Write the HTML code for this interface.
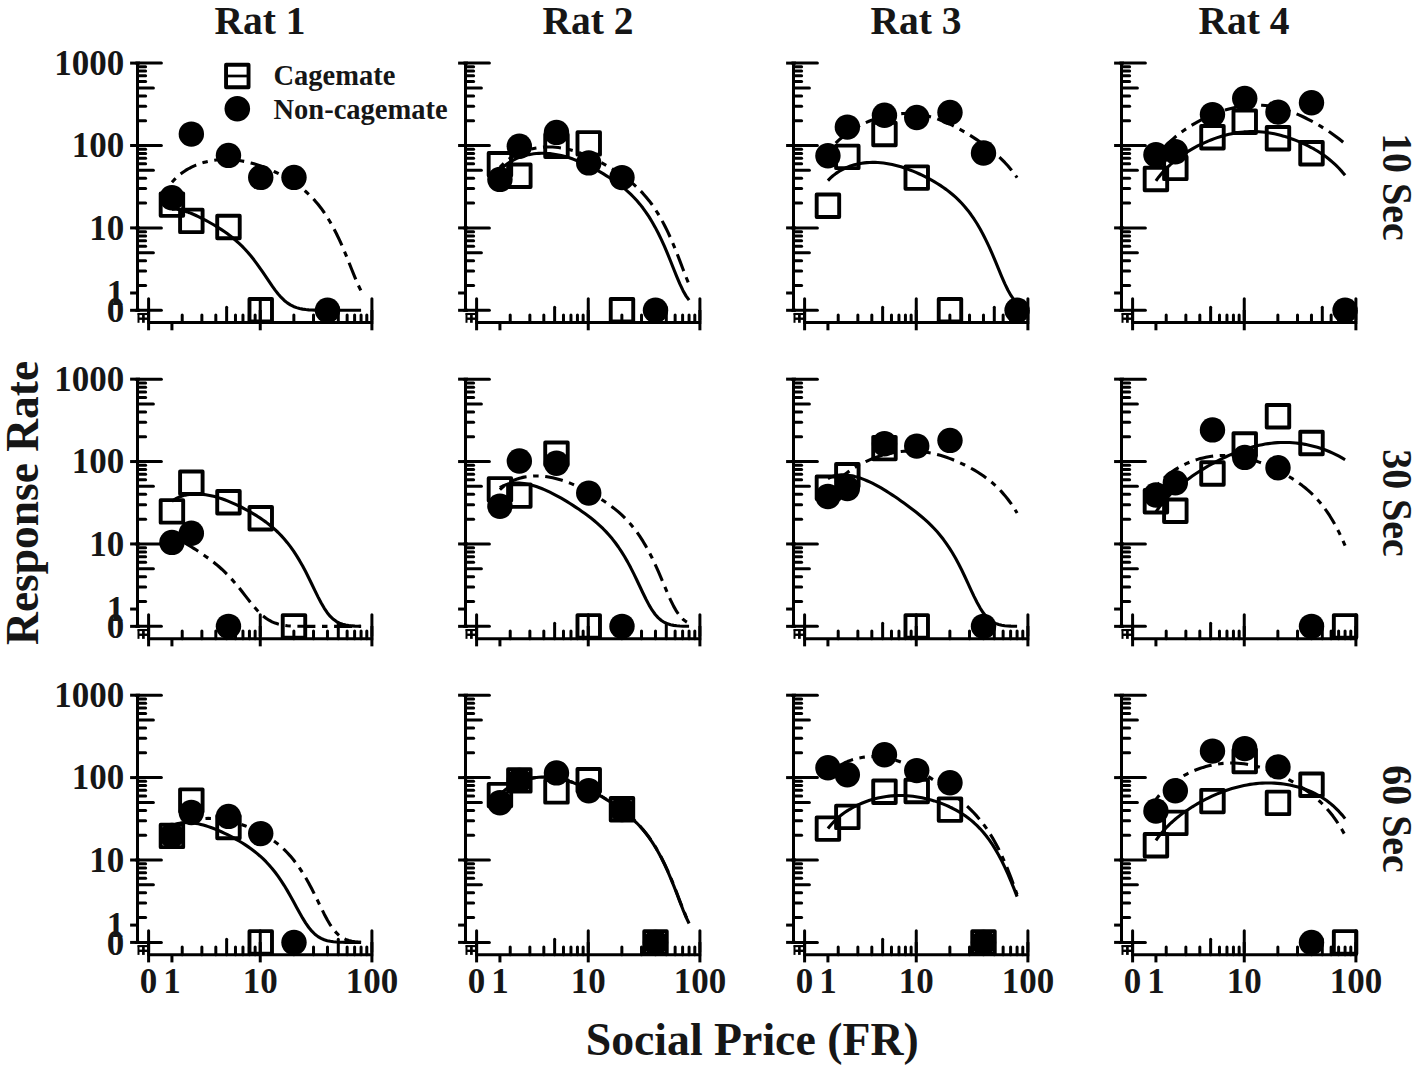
<!DOCTYPE html>
<html><head><meta charset="utf-8"><title>Response rate by social price</title>
<style>
html,body{margin:0;padding:0;background:#fff}
svg{display:block}
text{font-family:"Liberation Serif","Times New Roman",Times,serif;font-weight:bold;fill:#161616}
</style></head><body>
<svg width="1418" height="1069" viewBox="0 0 1418 1069">
<rect width="1418" height="1069" fill="#fff"/>
<g transform="translate(0 0)">
<g stroke="#000" fill="none">
<line x1="137.5" y1="62.5" x2="137.5" y2="311.7" stroke-width="3" stroke-linecap="butt"/>
<line x1="130.1" y1="310.3" x2="140" y2="310.3" stroke-width="3" stroke-linecap="butt"/>
<line x1="136" y1="310.3" x2="161.4" y2="310.3" stroke-width="3" stroke-linecap="round"/>
<line x1="130.1" y1="227.9" x2="140" y2="227.9" stroke-width="3" stroke-linecap="butt"/>
<line x1="136" y1="227.9" x2="161.4" y2="227.9" stroke-width="3" stroke-linecap="round"/>
<line x1="130.1" y1="145.5" x2="140" y2="145.5" stroke-width="3" stroke-linecap="butt"/>
<line x1="136" y1="145.5" x2="161.4" y2="145.5" stroke-width="3" stroke-linecap="round"/>
<line x1="130.1" y1="63.1" x2="140" y2="63.1" stroke-width="3" stroke-linecap="butt"/>
<line x1="136" y1="63.1" x2="161.4" y2="63.1" stroke-width="3" stroke-linecap="round"/>
<line x1="137.5" y1="285.5" x2="145.6" y2="285.5" stroke-width="3" stroke-linecap="round"/>
<line x1="137.5" y1="270.99" x2="145.6" y2="270.99" stroke-width="3" stroke-linecap="round"/>
<line x1="137.5" y1="260.69" x2="145.6" y2="260.69" stroke-width="3" stroke-linecap="round"/>
<line x1="137.5" y1="252.7" x2="153.4" y2="252.7" stroke-width="3" stroke-linecap="round"/>
<line x1="137.5" y1="246.18" x2="145.6" y2="246.18" stroke-width="3" stroke-linecap="round"/>
<line x1="137.5" y1="240.66" x2="145.6" y2="240.66" stroke-width="3" stroke-linecap="round"/>
<line x1="137.5" y1="235.89" x2="145.6" y2="235.89" stroke-width="3" stroke-linecap="round"/>
<line x1="137.5" y1="231.67" x2="145.6" y2="231.67" stroke-width="3" stroke-linecap="round"/>
<line x1="137.5" y1="203.1" x2="145.6" y2="203.1" stroke-width="3" stroke-linecap="round"/>
<line x1="137.5" y1="188.59" x2="145.6" y2="188.59" stroke-width="3" stroke-linecap="round"/>
<line x1="137.5" y1="178.29" x2="145.6" y2="178.29" stroke-width="3" stroke-linecap="round"/>
<line x1="137.5" y1="170.3" x2="153.4" y2="170.3" stroke-width="3" stroke-linecap="round"/>
<line x1="137.5" y1="163.78" x2="145.6" y2="163.78" stroke-width="3" stroke-linecap="round"/>
<line x1="137.5" y1="158.26" x2="145.6" y2="158.26" stroke-width="3" stroke-linecap="round"/>
<line x1="137.5" y1="153.49" x2="145.6" y2="153.49" stroke-width="3" stroke-linecap="round"/>
<line x1="137.5" y1="149.27" x2="145.6" y2="149.27" stroke-width="3" stroke-linecap="round"/>
<line x1="137.5" y1="120.7" x2="145.6" y2="120.7" stroke-width="3" stroke-linecap="round"/>
<line x1="137.5" y1="106.19" x2="145.6" y2="106.19" stroke-width="3" stroke-linecap="round"/>
<line x1="137.5" y1="95.89" x2="145.6" y2="95.89" stroke-width="3" stroke-linecap="round"/>
<line x1="137.5" y1="87.9" x2="153.4" y2="87.9" stroke-width="3" stroke-linecap="round"/>
<line x1="137.5" y1="81.38" x2="145.6" y2="81.38" stroke-width="3" stroke-linecap="round"/>
<line x1="137.5" y1="75.86" x2="145.6" y2="75.86" stroke-width="3" stroke-linecap="round"/>
<line x1="137.5" y1="71.09" x2="145.6" y2="71.09" stroke-width="3" stroke-linecap="round"/>
<line x1="137.5" y1="66.87" x2="145.6" y2="66.87" stroke-width="3" stroke-linecap="round"/>
<line x1="130.1" y1="293" x2="137.5" y2="293" stroke-width="3" stroke-linecap="butt"/>
<line x1="137.6" y1="314" x2="147.4" y2="314" stroke-width="2.1" stroke-linecap="butt"/>
<line x1="138" y1="318.7" x2="147.4" y2="318.7" stroke-width="2.4" stroke-linecap="butt"/>
<line x1="138.5" y1="313.2" x2="138.5" y2="322.8" stroke-width="2" stroke-linecap="butt"/>
<line x1="143.4" y1="313.2" x2="143.4" y2="322.8" stroke-width="2.7" stroke-linecap="butt"/>
<line x1="147.2" y1="322.6" x2="373.3" y2="322.6" stroke-width="3" stroke-linecap="butt"/>
<line x1="148.6" y1="298.7" x2="148.6" y2="320" stroke-width="3" stroke-linecap="round"/>
<line x1="148.6" y1="310" x2="148.6" y2="330.3" stroke-width="3" stroke-linecap="butt"/>
<line x1="260.25" y1="298.7" x2="260.25" y2="320" stroke-width="3" stroke-linecap="round"/>
<line x1="260.25" y1="310" x2="260.25" y2="330.3" stroke-width="3" stroke-linecap="butt"/>
<line x1="371.9" y1="298.7" x2="371.9" y2="320" stroke-width="3" stroke-linecap="round"/>
<line x1="371.9" y1="310" x2="371.9" y2="330.3" stroke-width="3" stroke-linecap="butt"/>
<line x1="182.21" y1="322.6" x2="182.21" y2="315" stroke-width="3" stroke-linecap="round"/>
<line x1="201.87" y1="322.6" x2="201.87" y2="315" stroke-width="3" stroke-linecap="round"/>
<line x1="215.82" y1="322.6" x2="215.82" y2="315" stroke-width="3" stroke-linecap="round"/>
<line x1="226.64" y1="322.6" x2="226.64" y2="307.2" stroke-width="3" stroke-linecap="round"/>
<line x1="235.48" y1="322.6" x2="235.48" y2="315" stroke-width="3" stroke-linecap="round"/>
<line x1="242.96" y1="322.6" x2="242.96" y2="315" stroke-width="3" stroke-linecap="round"/>
<line x1="249.43" y1="322.6" x2="249.43" y2="315" stroke-width="3" stroke-linecap="round"/>
<line x1="255.14" y1="322.6" x2="255.14" y2="315" stroke-width="3" stroke-linecap="round"/>
<line x1="293.86" y1="322.6" x2="293.86" y2="315" stroke-width="3" stroke-linecap="round"/>
<line x1="313.52" y1="322.6" x2="313.52" y2="315" stroke-width="3" stroke-linecap="round"/>
<line x1="327.47" y1="322.6" x2="327.47" y2="315" stroke-width="3" stroke-linecap="round"/>
<line x1="338.29" y1="322.6" x2="338.29" y2="307.2" stroke-width="3" stroke-linecap="round"/>
<line x1="347.13" y1="322.6" x2="347.13" y2="315" stroke-width="3" stroke-linecap="round"/>
<line x1="354.61" y1="322.6" x2="354.61" y2="315" stroke-width="3" stroke-linecap="round"/>
<line x1="361.08" y1="322.6" x2="361.08" y2="315" stroke-width="3" stroke-linecap="round"/>
<line x1="366.79" y1="322.6" x2="366.79" y2="315" stroke-width="3" stroke-linecap="round"/>
<line x1="171.93" y1="322.6" x2="171.93" y2="330.3" stroke-width="3" stroke-linecap="butt"/>
</g>
<path d="M171.93 209.18 L173.35 209.11 L174.83 209.13 L176.39 209.24 L178.02 209.45 L179.72 209.76 L181.51 210.15 L183.36 210.65 L185.29 211.24 L187.3 211.91 L189.38 212.68 L191.52 213.54 L193.74 214.48 L196.03 215.5 L198.37 216.6 L200.78 217.78 L203.25 219.04 L205.77 220.36 L208.34 221.76 L210.96 223.24 L213.63 224.78 L216.33 226.41 L219.07 228.12 L221.85 229.92 L224.66 231.82 L227.49 233.84 L230.36 235.99 L233.24 238.28 L236.15 240.73 L239.08 243.36 L242.02 246.19 L244.98 249.24 L247.95 252.52 L250.94 256.05 L253.93 259.82 L256.94 263.83 L259.95 268.05 L262.97 272.45 L266 276.96 L269.04 281.48 L272.08 285.91 L275.12 290.13 L278.17 294 L281.22 297.45 L284.27 300.42 L287.33 302.89 L290.39 304.88 L293.46 306.44 L296.52 307.63 L299.59 308.5 L302.66 309.13 L305.72 309.56 L308.8 309.85 L311.87 310.03 L314.94 310.15 L318.01 310.22 L321.09 310.26 L324.16 310.28 L327.24 310.29 L330.31 310.3 L333.39 310.3 L336.47 310.3 L339.54 310.3 L342.62 310.3 L345.7 310.3 L348.77 310.3 L351.85 310.3 L354.93 310.3 L358.01 310.3 L361.09 310.3" fill="none" stroke="#000" stroke-width="3.1" stroke-linejoin="round"/>
<path d="M171.93 182.32 L173.35 180.71 L174.83 179.14 L176.39 177.61 L178.02 176.13 L179.72 174.69 L181.51 173.3 L183.36 171.96 L185.29 170.67 L187.3 169.44 L189.38 168.27 L191.52 167.16 L193.74 166.11 L196.03 165.13 L198.37 164.22 L200.78 163.39 L203.25 162.62 L205.77 161.94 L208.34 161.33 L210.96 160.8 L213.63 160.36 L216.33 160.01 L219.07 159.75 L221.85 159.57 L224.66 159.49 L227.49 159.5 L230.36 159.61 L233.24 159.81 L236.15 160.1 L239.08 160.49 L242.02 160.97 L244.98 161.55 L247.95 162.21 L250.94 162.97 L253.93 163.81 L256.94 164.74 L259.95 165.75 L262.97 166.84 L266 168.01 L269.04 169.25 L272.08 170.58 L275.12 171.98 L278.17 173.45 L281.22 175.01 L284.27 176.65 L287.33 178.39 L290.39 180.23 L293.46 182.19 L296.52 184.27 L299.59 186.51 L302.66 188.91 L305.72 191.5 L308.8 194.3 L311.87 197.34 L314.94 200.65 L318.01 204.26 L321.09 208.19 L324.16 212.48 L327.24 217.15 L330.31 222.22 L333.39 227.74 L336.47 233.71 L339.54 240.14 L342.62 247.03 L345.7 254.33 L348.77 261.95 L351.85 269.73 L354.93 277.41 L358.01 284.63 L361.09 291.06" fill="none" stroke="#000" stroke-width="3.1" stroke-linejoin="round" stroke-dasharray="5.5 6.6 18 6.6"/>
<rect x="160.68" y="193.35" width="22.5" height="22.5" fill="none" stroke="#000" stroke-width="3.9" stroke-linejoin="round"/>
<rect x="180.09" y="209.65" width="22.5" height="22.5" fill="none" stroke="#000" stroke-width="3.9" stroke-linejoin="round"/>
<rect x="217.22" y="215.75" width="22.5" height="22.5" fill="none" stroke="#000" stroke-width="3.9" stroke-linejoin="round"/>
<rect x="249.48" y="299.05" width="22.5" height="22.5" fill="none" stroke="#000" stroke-width="3.9" stroke-linejoin="round"/>
<circle cx="171.93" cy="197.8" r="12.7" fill="#000"/>
<circle cx="191.34" cy="134.1" r="12.7" fill="#000"/>
<circle cx="228.47" cy="155.4" r="12.7" fill="#000"/>
<circle cx="260.73" cy="177.4" r="12.7" fill="#000"/>
<circle cx="293.98" cy="177.4" r="12.7" fill="#000"/>
<circle cx="327.5" cy="310.3" r="12.7" fill="#000"/>
</g>
<g transform="translate(328 0)">
<g stroke="#000" fill="none">
<line x1="137.5" y1="62.5" x2="137.5" y2="311.7" stroke-width="3" stroke-linecap="butt"/>
<line x1="130.1" y1="310.3" x2="140" y2="310.3" stroke-width="3" stroke-linecap="butt"/>
<line x1="136" y1="310.3" x2="161.4" y2="310.3" stroke-width="3" stroke-linecap="round"/>
<line x1="130.1" y1="227.9" x2="140" y2="227.9" stroke-width="3" stroke-linecap="butt"/>
<line x1="136" y1="227.9" x2="161.4" y2="227.9" stroke-width="3" stroke-linecap="round"/>
<line x1="130.1" y1="145.5" x2="140" y2="145.5" stroke-width="3" stroke-linecap="butt"/>
<line x1="136" y1="145.5" x2="161.4" y2="145.5" stroke-width="3" stroke-linecap="round"/>
<line x1="130.1" y1="63.1" x2="140" y2="63.1" stroke-width="3" stroke-linecap="butt"/>
<line x1="136" y1="63.1" x2="161.4" y2="63.1" stroke-width="3" stroke-linecap="round"/>
<line x1="137.5" y1="285.5" x2="145.6" y2="285.5" stroke-width="3" stroke-linecap="round"/>
<line x1="137.5" y1="270.99" x2="145.6" y2="270.99" stroke-width="3" stroke-linecap="round"/>
<line x1="137.5" y1="260.69" x2="145.6" y2="260.69" stroke-width="3" stroke-linecap="round"/>
<line x1="137.5" y1="252.7" x2="153.4" y2="252.7" stroke-width="3" stroke-linecap="round"/>
<line x1="137.5" y1="246.18" x2="145.6" y2="246.18" stroke-width="3" stroke-linecap="round"/>
<line x1="137.5" y1="240.66" x2="145.6" y2="240.66" stroke-width="3" stroke-linecap="round"/>
<line x1="137.5" y1="235.89" x2="145.6" y2="235.89" stroke-width="3" stroke-linecap="round"/>
<line x1="137.5" y1="231.67" x2="145.6" y2="231.67" stroke-width="3" stroke-linecap="round"/>
<line x1="137.5" y1="203.1" x2="145.6" y2="203.1" stroke-width="3" stroke-linecap="round"/>
<line x1="137.5" y1="188.59" x2="145.6" y2="188.59" stroke-width="3" stroke-linecap="round"/>
<line x1="137.5" y1="178.29" x2="145.6" y2="178.29" stroke-width="3" stroke-linecap="round"/>
<line x1="137.5" y1="170.3" x2="153.4" y2="170.3" stroke-width="3" stroke-linecap="round"/>
<line x1="137.5" y1="163.78" x2="145.6" y2="163.78" stroke-width="3" stroke-linecap="round"/>
<line x1="137.5" y1="158.26" x2="145.6" y2="158.26" stroke-width="3" stroke-linecap="round"/>
<line x1="137.5" y1="153.49" x2="145.6" y2="153.49" stroke-width="3" stroke-linecap="round"/>
<line x1="137.5" y1="149.27" x2="145.6" y2="149.27" stroke-width="3" stroke-linecap="round"/>
<line x1="137.5" y1="120.7" x2="145.6" y2="120.7" stroke-width="3" stroke-linecap="round"/>
<line x1="137.5" y1="106.19" x2="145.6" y2="106.19" stroke-width="3" stroke-linecap="round"/>
<line x1="137.5" y1="95.89" x2="145.6" y2="95.89" stroke-width="3" stroke-linecap="round"/>
<line x1="137.5" y1="87.9" x2="153.4" y2="87.9" stroke-width="3" stroke-linecap="round"/>
<line x1="137.5" y1="81.38" x2="145.6" y2="81.38" stroke-width="3" stroke-linecap="round"/>
<line x1="137.5" y1="75.86" x2="145.6" y2="75.86" stroke-width="3" stroke-linecap="round"/>
<line x1="137.5" y1="71.09" x2="145.6" y2="71.09" stroke-width="3" stroke-linecap="round"/>
<line x1="137.5" y1="66.87" x2="145.6" y2="66.87" stroke-width="3" stroke-linecap="round"/>
<line x1="130.1" y1="293" x2="137.5" y2="293" stroke-width="3" stroke-linecap="butt"/>
<line x1="137.6" y1="314" x2="147.4" y2="314" stroke-width="2.1" stroke-linecap="butt"/>
<line x1="138" y1="318.7" x2="147.4" y2="318.7" stroke-width="2.4" stroke-linecap="butt"/>
<line x1="138.5" y1="313.2" x2="138.5" y2="322.8" stroke-width="2" stroke-linecap="butt"/>
<line x1="143.4" y1="313.2" x2="143.4" y2="322.8" stroke-width="2.7" stroke-linecap="butt"/>
<line x1="147.2" y1="322.6" x2="373.3" y2="322.6" stroke-width="3" stroke-linecap="butt"/>
<line x1="148.6" y1="298.7" x2="148.6" y2="320" stroke-width="3" stroke-linecap="round"/>
<line x1="148.6" y1="310" x2="148.6" y2="330.3" stroke-width="3" stroke-linecap="butt"/>
<line x1="260.25" y1="298.7" x2="260.25" y2="320" stroke-width="3" stroke-linecap="round"/>
<line x1="260.25" y1="310" x2="260.25" y2="330.3" stroke-width="3" stroke-linecap="butt"/>
<line x1="371.9" y1="298.7" x2="371.9" y2="320" stroke-width="3" stroke-linecap="round"/>
<line x1="371.9" y1="310" x2="371.9" y2="330.3" stroke-width="3" stroke-linecap="butt"/>
<line x1="182.21" y1="322.6" x2="182.21" y2="315" stroke-width="3" stroke-linecap="round"/>
<line x1="201.87" y1="322.6" x2="201.87" y2="315" stroke-width="3" stroke-linecap="round"/>
<line x1="215.82" y1="322.6" x2="215.82" y2="315" stroke-width="3" stroke-linecap="round"/>
<line x1="226.64" y1="322.6" x2="226.64" y2="307.2" stroke-width="3" stroke-linecap="round"/>
<line x1="235.48" y1="322.6" x2="235.48" y2="315" stroke-width="3" stroke-linecap="round"/>
<line x1="242.96" y1="322.6" x2="242.96" y2="315" stroke-width="3" stroke-linecap="round"/>
<line x1="249.43" y1="322.6" x2="249.43" y2="315" stroke-width="3" stroke-linecap="round"/>
<line x1="255.14" y1="322.6" x2="255.14" y2="315" stroke-width="3" stroke-linecap="round"/>
<line x1="293.86" y1="322.6" x2="293.86" y2="315" stroke-width="3" stroke-linecap="round"/>
<line x1="313.52" y1="322.6" x2="313.52" y2="315" stroke-width="3" stroke-linecap="round"/>
<line x1="327.47" y1="322.6" x2="327.47" y2="315" stroke-width="3" stroke-linecap="round"/>
<line x1="338.29" y1="322.6" x2="338.29" y2="307.2" stroke-width="3" stroke-linecap="round"/>
<line x1="347.13" y1="322.6" x2="347.13" y2="315" stroke-width="3" stroke-linecap="round"/>
<line x1="354.61" y1="322.6" x2="354.61" y2="315" stroke-width="3" stroke-linecap="round"/>
<line x1="361.08" y1="322.6" x2="361.08" y2="315" stroke-width="3" stroke-linecap="round"/>
<line x1="366.79" y1="322.6" x2="366.79" y2="315" stroke-width="3" stroke-linecap="round"/>
<line x1="171.93" y1="322.6" x2="171.93" y2="330.3" stroke-width="3" stroke-linecap="butt"/>
</g>
<path d="M171.93 170.23 L173.35 168.77 L174.83 167.36 L176.39 166 L178.02 164.69 L179.72 163.44 L181.51 162.24 L183.36 161.11 L185.29 160.04 L187.3 159.04 L189.38 158.11 L191.52 157.25 L193.74 156.47 L196.03 155.77 L198.37 155.15 L200.78 154.61 L203.25 154.16 L205.77 153.8 L208.34 153.53 L210.96 153.36 L213.63 153.28 L216.33 153.31 L219.07 153.43 L221.85 153.65 L224.66 153.98 L227.49 154.41 L230.36 154.94 L233.24 155.57 L236.15 156.31 L239.08 157.14 L242.02 158.07 L244.98 159.09 L247.95 160.2 L250.94 161.4 L253.93 162.68 L256.94 164.04 L259.95 165.48 L262.97 166.99 L266 168.57 L269.04 170.22 L272.08 171.93 L275.12 173.71 L278.17 175.56 L281.22 177.49 L284.27 179.5 L287.33 181.6 L290.39 183.82 L293.46 186.16 L296.52 188.65 L299.59 191.3 L302.66 194.15 L305.72 197.22 L308.8 200.54 L311.87 204.14 L314.94 208.04 L318.01 212.29 L321.09 216.91 L324.16 221.94 L327.24 227.39 L330.31 233.28 L333.39 239.64 L336.47 246.44 L339.54 253.67 L342.62 261.23 L345.7 268.96 L348.77 276.63 L351.85 283.89 L354.93 290.39 L358.01 295.87 L361.09 300.22" fill="none" stroke="#000" stroke-width="3.1" stroke-linejoin="round"/>
<path d="M171.93 167.37 L173.35 165.81 L174.83 164.29 L176.39 162.82 L178.02 161.39 L179.72 160.02 L181.51 158.69 L183.36 157.43 L185.29 156.22 L187.3 155.07 L189.38 153.98 L191.52 152.96 L193.74 152.01 L196.03 151.13 L198.37 150.33 L200.78 149.61 L203.25 148.96 L205.77 148.4 L208.34 147.93 L210.96 147.55 L213.63 147.26 L216.33 147.06 L219.07 146.96 L221.85 146.96 L224.66 147.06 L227.49 147.26 L230.36 147.57 L233.24 147.97 L236.15 148.48 L239.08 149.1 L242.02 149.81 L244.98 150.62 L247.95 151.54 L250.94 152.54 L253.93 153.64 L256.94 154.83 L259.95 156.1 L262.97 157.46 L266 158.89 L269.04 160.39 L272.08 161.97 L275.12 163.61 L278.17 165.31 L281.22 167.09 L284.27 168.93 L287.33 170.84 L290.39 172.83 L293.46 174.92 L296.52 177.1 L299.59 179.4 L302.66 181.84 L305.72 184.43 L308.8 187.21 L311.87 190.19 L314.94 193.41 L318.01 196.9 L321.09 200.69 L324.16 204.8 L327.24 209.28 L330.31 214.15 L333.39 219.45 L336.47 225.19 L339.54 231.41 L342.62 238.11 L345.7 245.28 L348.77 252.88 L351.85 260.84 L354.93 268.96 L358.01 276.96 L361.09 284.48" fill="none" stroke="#000" stroke-width="3.1" stroke-linejoin="round" stroke-dasharray="5.5 6.6 18 6.6"/>
<rect x="160.68" y="153.05" width="22.5" height="22.5" fill="none" stroke="#000" stroke-width="3.9" stroke-linejoin="round"/>
<rect x="180.09" y="164.45" width="22.5" height="22.5" fill="none" stroke="#000" stroke-width="3.9" stroke-linejoin="round"/>
<rect x="217.22" y="134.45" width="22.5" height="22.5" fill="none" stroke="#000" stroke-width="3.9" stroke-linejoin="round"/>
<rect x="249.48" y="132.15" width="22.5" height="22.5" fill="none" stroke="#000" stroke-width="3.9" stroke-linejoin="round"/>
<rect x="282.73" y="299.05" width="22.5" height="22.5" fill="none" stroke="#000" stroke-width="3.9" stroke-linejoin="round"/>
<circle cx="171.93" cy="179.4" r="12.7" fill="#000"/>
<circle cx="191.34" cy="146.2" r="12.7" fill="#000"/>
<circle cx="228.47" cy="132.4" r="12.7" fill="#000"/>
<circle cx="260.73" cy="162.9" r="12.7" fill="#000"/>
<circle cx="293.98" cy="177.6" r="12.7" fill="#000"/>
<circle cx="327.5" cy="310.3" r="12.7" fill="#000"/>
</g>
<g transform="translate(656 0)">
<g stroke="#000" fill="none">
<line x1="137.5" y1="62.5" x2="137.5" y2="311.7" stroke-width="3" stroke-linecap="butt"/>
<line x1="130.1" y1="310.3" x2="140" y2="310.3" stroke-width="3" stroke-linecap="butt"/>
<line x1="136" y1="310.3" x2="161.4" y2="310.3" stroke-width="3" stroke-linecap="round"/>
<line x1="130.1" y1="227.9" x2="140" y2="227.9" stroke-width="3" stroke-linecap="butt"/>
<line x1="136" y1="227.9" x2="161.4" y2="227.9" stroke-width="3" stroke-linecap="round"/>
<line x1="130.1" y1="145.5" x2="140" y2="145.5" stroke-width="3" stroke-linecap="butt"/>
<line x1="136" y1="145.5" x2="161.4" y2="145.5" stroke-width="3" stroke-linecap="round"/>
<line x1="130.1" y1="63.1" x2="140" y2="63.1" stroke-width="3" stroke-linecap="butt"/>
<line x1="136" y1="63.1" x2="161.4" y2="63.1" stroke-width="3" stroke-linecap="round"/>
<line x1="137.5" y1="285.5" x2="145.6" y2="285.5" stroke-width="3" stroke-linecap="round"/>
<line x1="137.5" y1="270.99" x2="145.6" y2="270.99" stroke-width="3" stroke-linecap="round"/>
<line x1="137.5" y1="260.69" x2="145.6" y2="260.69" stroke-width="3" stroke-linecap="round"/>
<line x1="137.5" y1="252.7" x2="153.4" y2="252.7" stroke-width="3" stroke-linecap="round"/>
<line x1="137.5" y1="246.18" x2="145.6" y2="246.18" stroke-width="3" stroke-linecap="round"/>
<line x1="137.5" y1="240.66" x2="145.6" y2="240.66" stroke-width="3" stroke-linecap="round"/>
<line x1="137.5" y1="235.89" x2="145.6" y2="235.89" stroke-width="3" stroke-linecap="round"/>
<line x1="137.5" y1="231.67" x2="145.6" y2="231.67" stroke-width="3" stroke-linecap="round"/>
<line x1="137.5" y1="203.1" x2="145.6" y2="203.1" stroke-width="3" stroke-linecap="round"/>
<line x1="137.5" y1="188.59" x2="145.6" y2="188.59" stroke-width="3" stroke-linecap="round"/>
<line x1="137.5" y1="178.29" x2="145.6" y2="178.29" stroke-width="3" stroke-linecap="round"/>
<line x1="137.5" y1="170.3" x2="153.4" y2="170.3" stroke-width="3" stroke-linecap="round"/>
<line x1="137.5" y1="163.78" x2="145.6" y2="163.78" stroke-width="3" stroke-linecap="round"/>
<line x1="137.5" y1="158.26" x2="145.6" y2="158.26" stroke-width="3" stroke-linecap="round"/>
<line x1="137.5" y1="153.49" x2="145.6" y2="153.49" stroke-width="3" stroke-linecap="round"/>
<line x1="137.5" y1="149.27" x2="145.6" y2="149.27" stroke-width="3" stroke-linecap="round"/>
<line x1="137.5" y1="120.7" x2="145.6" y2="120.7" stroke-width="3" stroke-linecap="round"/>
<line x1="137.5" y1="106.19" x2="145.6" y2="106.19" stroke-width="3" stroke-linecap="round"/>
<line x1="137.5" y1="95.89" x2="145.6" y2="95.89" stroke-width="3" stroke-linecap="round"/>
<line x1="137.5" y1="87.9" x2="153.4" y2="87.9" stroke-width="3" stroke-linecap="round"/>
<line x1="137.5" y1="81.38" x2="145.6" y2="81.38" stroke-width="3" stroke-linecap="round"/>
<line x1="137.5" y1="75.86" x2="145.6" y2="75.86" stroke-width="3" stroke-linecap="round"/>
<line x1="137.5" y1="71.09" x2="145.6" y2="71.09" stroke-width="3" stroke-linecap="round"/>
<line x1="137.5" y1="66.87" x2="145.6" y2="66.87" stroke-width="3" stroke-linecap="round"/>
<line x1="130.1" y1="293" x2="137.5" y2="293" stroke-width="3" stroke-linecap="butt"/>
<line x1="137.6" y1="314" x2="147.4" y2="314" stroke-width="2.1" stroke-linecap="butt"/>
<line x1="138" y1="318.7" x2="147.4" y2="318.7" stroke-width="2.4" stroke-linecap="butt"/>
<line x1="138.5" y1="313.2" x2="138.5" y2="322.8" stroke-width="2" stroke-linecap="butt"/>
<line x1="143.4" y1="313.2" x2="143.4" y2="322.8" stroke-width="2.7" stroke-linecap="butt"/>
<line x1="147.2" y1="322.6" x2="373.3" y2="322.6" stroke-width="3" stroke-linecap="butt"/>
<line x1="148.6" y1="298.7" x2="148.6" y2="320" stroke-width="3" stroke-linecap="round"/>
<line x1="148.6" y1="310" x2="148.6" y2="330.3" stroke-width="3" stroke-linecap="butt"/>
<line x1="260.25" y1="298.7" x2="260.25" y2="320" stroke-width="3" stroke-linecap="round"/>
<line x1="260.25" y1="310" x2="260.25" y2="330.3" stroke-width="3" stroke-linecap="butt"/>
<line x1="371.9" y1="298.7" x2="371.9" y2="320" stroke-width="3" stroke-linecap="round"/>
<line x1="371.9" y1="310" x2="371.9" y2="330.3" stroke-width="3" stroke-linecap="butt"/>
<line x1="182.21" y1="322.6" x2="182.21" y2="315" stroke-width="3" stroke-linecap="round"/>
<line x1="201.87" y1="322.6" x2="201.87" y2="315" stroke-width="3" stroke-linecap="round"/>
<line x1="215.82" y1="322.6" x2="215.82" y2="315" stroke-width="3" stroke-linecap="round"/>
<line x1="226.64" y1="322.6" x2="226.64" y2="307.2" stroke-width="3" stroke-linecap="round"/>
<line x1="235.48" y1="322.6" x2="235.48" y2="315" stroke-width="3" stroke-linecap="round"/>
<line x1="242.96" y1="322.6" x2="242.96" y2="315" stroke-width="3" stroke-linecap="round"/>
<line x1="249.43" y1="322.6" x2="249.43" y2="315" stroke-width="3" stroke-linecap="round"/>
<line x1="255.14" y1="322.6" x2="255.14" y2="315" stroke-width="3" stroke-linecap="round"/>
<line x1="293.86" y1="322.6" x2="293.86" y2="315" stroke-width="3" stroke-linecap="round"/>
<line x1="313.52" y1="322.6" x2="313.52" y2="315" stroke-width="3" stroke-linecap="round"/>
<line x1="327.47" y1="322.6" x2="327.47" y2="315" stroke-width="3" stroke-linecap="round"/>
<line x1="338.29" y1="322.6" x2="338.29" y2="307.2" stroke-width="3" stroke-linecap="round"/>
<line x1="347.13" y1="322.6" x2="347.13" y2="315" stroke-width="3" stroke-linecap="round"/>
<line x1="354.61" y1="322.6" x2="354.61" y2="315" stroke-width="3" stroke-linecap="round"/>
<line x1="361.08" y1="322.6" x2="361.08" y2="315" stroke-width="3" stroke-linecap="round"/>
<line x1="366.79" y1="322.6" x2="366.79" y2="315" stroke-width="3" stroke-linecap="round"/>
<line x1="171.93" y1="322.6" x2="171.93" y2="330.3" stroke-width="3" stroke-linecap="butt"/>
</g>
<path d="M171.93 180.58 L173.35 179.09 L174.83 177.64 L176.39 176.25 L178.02 174.91 L179.72 173.61 L181.51 172.38 L183.36 171.2 L185.29 170.09 L187.3 169.04 L189.38 168.05 L191.52 167.14 L193.74 166.29 L196.03 165.53 L198.37 164.84 L200.78 164.23 L203.25 163.7 L205.77 163.26 L208.34 162.91 L210.96 162.64 L213.63 162.47 L216.33 162.39 L219.07 162.41 L221.85 162.52 L224.66 162.73 L227.49 163.03 L230.36 163.43 L233.24 163.93 L236.15 164.52 L239.08 165.2 L242.02 165.98 L244.98 166.84 L247.95 167.8 L250.94 168.83 L253.93 169.95 L256.94 171.15 L259.95 172.42 L262.97 173.76 L266 175.19 L269.04 176.68 L272.08 178.25 L275.12 179.9 L278.17 181.64 L281.22 183.47 L284.27 185.4 L287.33 187.45 L290.39 189.63 L293.46 191.96 L296.52 194.47 L299.59 197.17 L302.66 200.09 L305.72 203.25 L308.8 206.69 L311.87 210.44 L314.94 214.52 L318.01 218.96 L321.09 223.79 L324.16 229.04 L327.24 234.72 L330.31 240.84 L333.39 247.4 L336.47 254.37 L339.54 261.66 L342.62 269.13 L345.7 276.55 L348.77 283.61 L351.85 289.99 L354.93 295.42 L358.01 299.79 L361.09 303.12" fill="none" stroke="#000" stroke-width="3.1" stroke-linejoin="round"/>
<path d="M171.93 152.41 L173.35 150.51 L174.83 148.63 L176.39 146.79 L178.02 144.96 L179.72 143.17 L181.51 141.4 L183.36 139.67 L185.29 137.97 L187.3 136.31 L189.38 134.68 L191.52 133.09 L193.74 131.55 L196.03 130.04 L198.37 128.59 L200.78 127.18 L203.25 125.82 L205.77 124.52 L208.34 123.27 L210.96 122.09 L213.63 120.96 L216.33 119.9 L219.07 118.91 L221.85 117.99 L224.66 117.15 L227.49 116.38 L230.36 115.7 L233.24 115.09 L236.15 114.58 L239.08 114.15 L242.02 113.82 L244.98 113.59 L247.95 113.45 L250.94 113.41 L253.93 113.48 L256.94 113.65 L259.95 113.93 L262.97 114.31 L266 114.81 L269.04 115.41 L272.08 116.12 L275.12 116.94 L278.17 117.86 L281.22 118.89 L284.27 120.02 L287.33 121.25 L290.39 122.56 L293.46 123.97 L296.52 125.47 L299.59 127.04 L302.66 128.69 L305.72 130.4 L308.8 132.18 L311.87 134.02 L314.94 135.92 L318.01 137.88 L321.09 139.9 L324.16 141.98 L327.24 144.14 L330.31 146.37 L333.39 148.7 L336.47 151.14 L339.54 153.72 L342.62 156.44 L345.7 159.35 L348.77 162.46 L351.85 165.81 L354.93 169.44 L358.01 173.37 L361.09 177.64" fill="none" stroke="#000" stroke-width="3.1" stroke-linejoin="round" stroke-dasharray="5.5 6.6 18 6.6"/>
<rect x="160.68" y="194.45" width="22.5" height="22.5" fill="none" stroke="#000" stroke-width="3.9" stroke-linejoin="round"/>
<rect x="180.09" y="145.65" width="22.5" height="22.5" fill="none" stroke="#000" stroke-width="3.9" stroke-linejoin="round"/>
<rect x="217.22" y="122.75" width="22.5" height="22.5" fill="none" stroke="#000" stroke-width="3.9" stroke-linejoin="round"/>
<rect x="249.48" y="166.35" width="22.5" height="22.5" fill="none" stroke="#000" stroke-width="3.9" stroke-linejoin="round"/>
<rect x="282.73" y="299.05" width="22.5" height="22.5" fill="none" stroke="#000" stroke-width="3.9" stroke-linejoin="round"/>
<circle cx="171.93" cy="155.8" r="12.7" fill="#000"/>
<circle cx="191.34" cy="127.1" r="12.7" fill="#000"/>
<circle cx="228.47" cy="115.2" r="12.7" fill="#000"/>
<circle cx="260.73" cy="117.5" r="12.7" fill="#000"/>
<circle cx="293.98" cy="112.5" r="12.7" fill="#000"/>
<circle cx="327.5" cy="153" r="12.7" fill="#000"/>
<circle cx="361.09" cy="310.3" r="12.7" fill="#000"/>
</g>
<g transform="translate(984 0)">
<g stroke="#000" fill="none">
<line x1="137.5" y1="62.5" x2="137.5" y2="311.7" stroke-width="3" stroke-linecap="butt"/>
<line x1="130.1" y1="310.3" x2="140" y2="310.3" stroke-width="3" stroke-linecap="butt"/>
<line x1="136" y1="310.3" x2="161.4" y2="310.3" stroke-width="3" stroke-linecap="round"/>
<line x1="130.1" y1="227.9" x2="140" y2="227.9" stroke-width="3" stroke-linecap="butt"/>
<line x1="136" y1="227.9" x2="161.4" y2="227.9" stroke-width="3" stroke-linecap="round"/>
<line x1="130.1" y1="145.5" x2="140" y2="145.5" stroke-width="3" stroke-linecap="butt"/>
<line x1="136" y1="145.5" x2="161.4" y2="145.5" stroke-width="3" stroke-linecap="round"/>
<line x1="130.1" y1="63.1" x2="140" y2="63.1" stroke-width="3" stroke-linecap="butt"/>
<line x1="136" y1="63.1" x2="161.4" y2="63.1" stroke-width="3" stroke-linecap="round"/>
<line x1="137.5" y1="285.5" x2="145.6" y2="285.5" stroke-width="3" stroke-linecap="round"/>
<line x1="137.5" y1="270.99" x2="145.6" y2="270.99" stroke-width="3" stroke-linecap="round"/>
<line x1="137.5" y1="260.69" x2="145.6" y2="260.69" stroke-width="3" stroke-linecap="round"/>
<line x1="137.5" y1="252.7" x2="153.4" y2="252.7" stroke-width="3" stroke-linecap="round"/>
<line x1="137.5" y1="246.18" x2="145.6" y2="246.18" stroke-width="3" stroke-linecap="round"/>
<line x1="137.5" y1="240.66" x2="145.6" y2="240.66" stroke-width="3" stroke-linecap="round"/>
<line x1="137.5" y1="235.89" x2="145.6" y2="235.89" stroke-width="3" stroke-linecap="round"/>
<line x1="137.5" y1="231.67" x2="145.6" y2="231.67" stroke-width="3" stroke-linecap="round"/>
<line x1="137.5" y1="203.1" x2="145.6" y2="203.1" stroke-width="3" stroke-linecap="round"/>
<line x1="137.5" y1="188.59" x2="145.6" y2="188.59" stroke-width="3" stroke-linecap="round"/>
<line x1="137.5" y1="178.29" x2="145.6" y2="178.29" stroke-width="3" stroke-linecap="round"/>
<line x1="137.5" y1="170.3" x2="153.4" y2="170.3" stroke-width="3" stroke-linecap="round"/>
<line x1="137.5" y1="163.78" x2="145.6" y2="163.78" stroke-width="3" stroke-linecap="round"/>
<line x1="137.5" y1="158.26" x2="145.6" y2="158.26" stroke-width="3" stroke-linecap="round"/>
<line x1="137.5" y1="153.49" x2="145.6" y2="153.49" stroke-width="3" stroke-linecap="round"/>
<line x1="137.5" y1="149.27" x2="145.6" y2="149.27" stroke-width="3" stroke-linecap="round"/>
<line x1="137.5" y1="120.7" x2="145.6" y2="120.7" stroke-width="3" stroke-linecap="round"/>
<line x1="137.5" y1="106.19" x2="145.6" y2="106.19" stroke-width="3" stroke-linecap="round"/>
<line x1="137.5" y1="95.89" x2="145.6" y2="95.89" stroke-width="3" stroke-linecap="round"/>
<line x1="137.5" y1="87.9" x2="153.4" y2="87.9" stroke-width="3" stroke-linecap="round"/>
<line x1="137.5" y1="81.38" x2="145.6" y2="81.38" stroke-width="3" stroke-linecap="round"/>
<line x1="137.5" y1="75.86" x2="145.6" y2="75.86" stroke-width="3" stroke-linecap="round"/>
<line x1="137.5" y1="71.09" x2="145.6" y2="71.09" stroke-width="3" stroke-linecap="round"/>
<line x1="137.5" y1="66.87" x2="145.6" y2="66.87" stroke-width="3" stroke-linecap="round"/>
<line x1="130.1" y1="293" x2="137.5" y2="293" stroke-width="3" stroke-linecap="butt"/>
<line x1="137.6" y1="314" x2="147.4" y2="314" stroke-width="2.1" stroke-linecap="butt"/>
<line x1="138" y1="318.7" x2="147.4" y2="318.7" stroke-width="2.4" stroke-linecap="butt"/>
<line x1="138.5" y1="313.2" x2="138.5" y2="322.8" stroke-width="2" stroke-linecap="butt"/>
<line x1="143.4" y1="313.2" x2="143.4" y2="322.8" stroke-width="2.7" stroke-linecap="butt"/>
<line x1="147.2" y1="322.6" x2="373.3" y2="322.6" stroke-width="3" stroke-linecap="butt"/>
<line x1="148.6" y1="298.7" x2="148.6" y2="320" stroke-width="3" stroke-linecap="round"/>
<line x1="148.6" y1="310" x2="148.6" y2="330.3" stroke-width="3" stroke-linecap="butt"/>
<line x1="260.25" y1="298.7" x2="260.25" y2="320" stroke-width="3" stroke-linecap="round"/>
<line x1="260.25" y1="310" x2="260.25" y2="330.3" stroke-width="3" stroke-linecap="butt"/>
<line x1="371.9" y1="298.7" x2="371.9" y2="320" stroke-width="3" stroke-linecap="round"/>
<line x1="371.9" y1="310" x2="371.9" y2="330.3" stroke-width="3" stroke-linecap="butt"/>
<line x1="182.21" y1="322.6" x2="182.21" y2="315" stroke-width="3" stroke-linecap="round"/>
<line x1="201.87" y1="322.6" x2="201.87" y2="315" stroke-width="3" stroke-linecap="round"/>
<line x1="215.82" y1="322.6" x2="215.82" y2="315" stroke-width="3" stroke-linecap="round"/>
<line x1="226.64" y1="322.6" x2="226.64" y2="307.2" stroke-width="3" stroke-linecap="round"/>
<line x1="235.48" y1="322.6" x2="235.48" y2="315" stroke-width="3" stroke-linecap="round"/>
<line x1="242.96" y1="322.6" x2="242.96" y2="315" stroke-width="3" stroke-linecap="round"/>
<line x1="249.43" y1="322.6" x2="249.43" y2="315" stroke-width="3" stroke-linecap="round"/>
<line x1="255.14" y1="322.6" x2="255.14" y2="315" stroke-width="3" stroke-linecap="round"/>
<line x1="293.86" y1="322.6" x2="293.86" y2="315" stroke-width="3" stroke-linecap="round"/>
<line x1="313.52" y1="322.6" x2="313.52" y2="315" stroke-width="3" stroke-linecap="round"/>
<line x1="327.47" y1="322.6" x2="327.47" y2="315" stroke-width="3" stroke-linecap="round"/>
<line x1="338.29" y1="322.6" x2="338.29" y2="307.2" stroke-width="3" stroke-linecap="round"/>
<line x1="347.13" y1="322.6" x2="347.13" y2="315" stroke-width="3" stroke-linecap="round"/>
<line x1="354.61" y1="322.6" x2="354.61" y2="315" stroke-width="3" stroke-linecap="round"/>
<line x1="361.08" y1="322.6" x2="361.08" y2="315" stroke-width="3" stroke-linecap="round"/>
<line x1="366.79" y1="322.6" x2="366.79" y2="315" stroke-width="3" stroke-linecap="round"/>
<line x1="171.93" y1="322.6" x2="171.93" y2="330.3" stroke-width="3" stroke-linecap="butt"/>
</g>
<path d="M171.93 180.9 L173.35 178.91 L174.83 176.93 L176.39 174.98 L178.02 173.05 L179.72 171.13 L181.51 169.24 L183.36 167.37 L185.29 165.53 L187.3 163.71 L189.38 161.92 L191.52 160.16 L193.74 158.43 L196.03 156.74 L198.37 155.08 L200.78 153.45 L203.25 151.87 L205.77 150.32 L208.34 148.82 L210.96 147.36 L213.63 145.95 L216.33 144.6 L219.07 143.29 L221.85 142.04 L224.66 140.84 L227.49 139.71 L230.36 138.64 L233.24 137.63 L236.15 136.69 L239.08 135.82 L242.02 135.02 L244.98 134.3 L247.95 133.66 L250.94 133.1 L253.93 132.62 L256.94 132.22 L259.95 131.92 L262.97 131.7 L266 131.57 L269.04 131.53 L272.08 131.58 L275.12 131.72 L278.17 131.96 L281.22 132.29 L284.27 132.71 L287.33 133.22 L290.39 133.82 L293.46 134.5 L296.52 135.28 L299.59 136.14 L302.66 137.08 L305.72 138.1 L308.8 139.2 L311.87 140.38 L314.94 141.64 L318.01 142.98 L321.09 144.4 L324.16 145.91 L327.24 147.51 L330.31 149.21 L333.39 151.03 L336.47 152.97 L339.54 155.05 L342.62 157.28 L345.7 159.7 L348.77 162.32 L351.85 165.17 L354.93 168.26 L358.01 171.64 L361.09 175.33" fill="none" stroke="#000" stroke-width="3.1" stroke-linejoin="round"/>
<path d="M171.93 158.02 L173.35 155.99 L174.83 153.98 L176.39 151.98 L178.02 150 L179.72 148.04 L181.51 146.1 L183.36 144.19 L185.29 142.29 L187.3 140.42 L189.38 138.57 L191.52 136.75 L193.74 134.95 L196.03 133.19 L198.37 131.46 L200.78 129.76 L203.25 128.09 L205.77 126.47 L208.34 124.88 L210.96 123.33 L213.63 121.83 L216.33 120.38 L219.07 118.97 L221.85 117.61 L224.66 116.31 L227.49 115.06 L230.36 113.87 L233.24 112.75 L236.15 111.68 L239.08 110.69 L242.02 109.77 L244.98 108.92 L247.95 108.14 L250.94 107.45 L253.93 106.84 L256.94 106.31 L259.95 105.88 L262.97 105.53 L266 105.28 L269.04 105.12 L272.08 105.06 L275.12 105.1 L278.17 105.25 L281.22 105.49 L284.27 105.84 L287.33 106.3 L290.39 106.86 L293.46 107.52 L296.52 108.28 L299.59 109.15 L302.66 110.11 L305.72 111.17 L308.8 112.32 L311.87 113.56 L314.94 114.88 L318.01 116.28 L321.09 117.76 L324.16 119.31 L327.24 120.93 L330.31 122.62 L333.39 124.37 L336.47 126.19 L339.54 128.07 L342.62 130.02 L345.7 132.06 L348.77 134.18 L351.85 136.4 L354.93 138.74 L358.01 141.22 L361.09 143.86" fill="none" stroke="#000" stroke-width="3.1" stroke-linejoin="round" stroke-dasharray="5.5 6.6 18 6.6"/>
<rect x="160.68" y="167.75" width="22.5" height="22.5" fill="none" stroke="#000" stroke-width="3.9" stroke-linejoin="round"/>
<rect x="180.09" y="156.65" width="22.5" height="22.5" fill="none" stroke="#000" stroke-width="3.9" stroke-linejoin="round"/>
<rect x="217.22" y="125.95" width="22.5" height="22.5" fill="none" stroke="#000" stroke-width="3.9" stroke-linejoin="round"/>
<rect x="249.48" y="110.55" width="22.5" height="22.5" fill="none" stroke="#000" stroke-width="3.9" stroke-linejoin="round"/>
<rect x="282.73" y="126.95" width="22.5" height="22.5" fill="none" stroke="#000" stroke-width="3.9" stroke-linejoin="round"/>
<rect x="316.25" y="142.05" width="22.5" height="22.5" fill="none" stroke="#000" stroke-width="3.9" stroke-linejoin="round"/>
<circle cx="171.93" cy="154.8" r="12.7" fill="#000"/>
<circle cx="191.34" cy="151.8" r="12.7" fill="#000"/>
<circle cx="228.47" cy="114.6" r="12.7" fill="#000"/>
<circle cx="260.73" cy="98.5" r="12.7" fill="#000"/>
<circle cx="293.98" cy="112.1" r="12.7" fill="#000"/>
<circle cx="327.5" cy="102.7" r="12.7" fill="#000"/>
<circle cx="361.09" cy="310.3" r="12.7" fill="#000"/>
</g>
<g transform="translate(0 316.05)">
<g stroke="#000" fill="none">
<line x1="137.5" y1="62.5" x2="137.5" y2="311.7" stroke-width="3" stroke-linecap="butt"/>
<line x1="130.1" y1="310.3" x2="140" y2="310.3" stroke-width="3" stroke-linecap="butt"/>
<line x1="136" y1="310.3" x2="161.4" y2="310.3" stroke-width="3" stroke-linecap="round"/>
<line x1="130.1" y1="227.9" x2="140" y2="227.9" stroke-width="3" stroke-linecap="butt"/>
<line x1="136" y1="227.9" x2="161.4" y2="227.9" stroke-width="3" stroke-linecap="round"/>
<line x1="130.1" y1="145.5" x2="140" y2="145.5" stroke-width="3" stroke-linecap="butt"/>
<line x1="136" y1="145.5" x2="161.4" y2="145.5" stroke-width="3" stroke-linecap="round"/>
<line x1="130.1" y1="63.1" x2="140" y2="63.1" stroke-width="3" stroke-linecap="butt"/>
<line x1="136" y1="63.1" x2="161.4" y2="63.1" stroke-width="3" stroke-linecap="round"/>
<line x1="137.5" y1="285.5" x2="145.6" y2="285.5" stroke-width="3" stroke-linecap="round"/>
<line x1="137.5" y1="270.99" x2="145.6" y2="270.99" stroke-width="3" stroke-linecap="round"/>
<line x1="137.5" y1="260.69" x2="145.6" y2="260.69" stroke-width="3" stroke-linecap="round"/>
<line x1="137.5" y1="252.7" x2="153.4" y2="252.7" stroke-width="3" stroke-linecap="round"/>
<line x1="137.5" y1="246.18" x2="145.6" y2="246.18" stroke-width="3" stroke-linecap="round"/>
<line x1="137.5" y1="240.66" x2="145.6" y2="240.66" stroke-width="3" stroke-linecap="round"/>
<line x1="137.5" y1="235.89" x2="145.6" y2="235.89" stroke-width="3" stroke-linecap="round"/>
<line x1="137.5" y1="231.67" x2="145.6" y2="231.67" stroke-width="3" stroke-linecap="round"/>
<line x1="137.5" y1="203.1" x2="145.6" y2="203.1" stroke-width="3" stroke-linecap="round"/>
<line x1="137.5" y1="188.59" x2="145.6" y2="188.59" stroke-width="3" stroke-linecap="round"/>
<line x1="137.5" y1="178.29" x2="145.6" y2="178.29" stroke-width="3" stroke-linecap="round"/>
<line x1="137.5" y1="170.3" x2="153.4" y2="170.3" stroke-width="3" stroke-linecap="round"/>
<line x1="137.5" y1="163.78" x2="145.6" y2="163.78" stroke-width="3" stroke-linecap="round"/>
<line x1="137.5" y1="158.26" x2="145.6" y2="158.26" stroke-width="3" stroke-linecap="round"/>
<line x1="137.5" y1="153.49" x2="145.6" y2="153.49" stroke-width="3" stroke-linecap="round"/>
<line x1="137.5" y1="149.27" x2="145.6" y2="149.27" stroke-width="3" stroke-linecap="round"/>
<line x1="137.5" y1="120.7" x2="145.6" y2="120.7" stroke-width="3" stroke-linecap="round"/>
<line x1="137.5" y1="106.19" x2="145.6" y2="106.19" stroke-width="3" stroke-linecap="round"/>
<line x1="137.5" y1="95.89" x2="145.6" y2="95.89" stroke-width="3" stroke-linecap="round"/>
<line x1="137.5" y1="87.9" x2="153.4" y2="87.9" stroke-width="3" stroke-linecap="round"/>
<line x1="137.5" y1="81.38" x2="145.6" y2="81.38" stroke-width="3" stroke-linecap="round"/>
<line x1="137.5" y1="75.86" x2="145.6" y2="75.86" stroke-width="3" stroke-linecap="round"/>
<line x1="137.5" y1="71.09" x2="145.6" y2="71.09" stroke-width="3" stroke-linecap="round"/>
<line x1="137.5" y1="66.87" x2="145.6" y2="66.87" stroke-width="3" stroke-linecap="round"/>
<line x1="130.1" y1="293" x2="137.5" y2="293" stroke-width="3" stroke-linecap="butt"/>
<line x1="137.6" y1="314" x2="147.4" y2="314" stroke-width="2.1" stroke-linecap="butt"/>
<line x1="138" y1="318.7" x2="147.4" y2="318.7" stroke-width="2.4" stroke-linecap="butt"/>
<line x1="138.5" y1="313.2" x2="138.5" y2="322.8" stroke-width="2" stroke-linecap="butt"/>
<line x1="143.4" y1="313.2" x2="143.4" y2="322.8" stroke-width="2.7" stroke-linecap="butt"/>
<line x1="147.2" y1="322.6" x2="373.3" y2="322.6" stroke-width="3" stroke-linecap="butt"/>
<line x1="148.6" y1="298.7" x2="148.6" y2="320" stroke-width="3" stroke-linecap="round"/>
<line x1="148.6" y1="310" x2="148.6" y2="330.3" stroke-width="3" stroke-linecap="butt"/>
<line x1="260.25" y1="298.7" x2="260.25" y2="320" stroke-width="3" stroke-linecap="round"/>
<line x1="260.25" y1="310" x2="260.25" y2="330.3" stroke-width="3" stroke-linecap="butt"/>
<line x1="371.9" y1="298.7" x2="371.9" y2="320" stroke-width="3" stroke-linecap="round"/>
<line x1="371.9" y1="310" x2="371.9" y2="330.3" stroke-width="3" stroke-linecap="butt"/>
<line x1="182.21" y1="322.6" x2="182.21" y2="315" stroke-width="3" stroke-linecap="round"/>
<line x1="201.87" y1="322.6" x2="201.87" y2="315" stroke-width="3" stroke-linecap="round"/>
<line x1="215.82" y1="322.6" x2="215.82" y2="315" stroke-width="3" stroke-linecap="round"/>
<line x1="226.64" y1="322.6" x2="226.64" y2="307.2" stroke-width="3" stroke-linecap="round"/>
<line x1="235.48" y1="322.6" x2="235.48" y2="315" stroke-width="3" stroke-linecap="round"/>
<line x1="242.96" y1="322.6" x2="242.96" y2="315" stroke-width="3" stroke-linecap="round"/>
<line x1="249.43" y1="322.6" x2="249.43" y2="315" stroke-width="3" stroke-linecap="round"/>
<line x1="255.14" y1="322.6" x2="255.14" y2="315" stroke-width="3" stroke-linecap="round"/>
<line x1="293.86" y1="322.6" x2="293.86" y2="315" stroke-width="3" stroke-linecap="round"/>
<line x1="313.52" y1="322.6" x2="313.52" y2="315" stroke-width="3" stroke-linecap="round"/>
<line x1="327.47" y1="322.6" x2="327.47" y2="315" stroke-width="3" stroke-linecap="round"/>
<line x1="338.29" y1="322.6" x2="338.29" y2="307.2" stroke-width="3" stroke-linecap="round"/>
<line x1="347.13" y1="322.6" x2="347.13" y2="315" stroke-width="3" stroke-linecap="round"/>
<line x1="354.61" y1="322.6" x2="354.61" y2="315" stroke-width="3" stroke-linecap="round"/>
<line x1="361.08" y1="322.6" x2="361.08" y2="315" stroke-width="3" stroke-linecap="round"/>
<line x1="366.79" y1="322.6" x2="366.79" y2="315" stroke-width="3" stroke-linecap="round"/>
<line x1="171.93" y1="322.6" x2="171.93" y2="330.3" stroke-width="3" stroke-linecap="butt"/>
</g>
<path d="M171.93 185.28 L173.35 184.25 L174.83 183.28 L176.39 182.39 L178.02 181.56 L179.72 180.82 L181.51 180.15 L183.36 179.57 L185.29 179.06 L187.3 178.65 L189.38 178.32 L191.52 178.09 L193.74 177.95 L196.03 177.9 L198.37 177.95 L200.78 178.1 L203.25 178.34 L205.77 178.69 L208.34 179.13 L210.96 179.67 L213.63 180.3 L216.33 181.03 L219.07 181.85 L221.85 182.77 L224.66 183.77 L227.49 184.85 L230.36 186.02 L233.24 187.26 L236.15 188.58 L239.08 189.97 L242.02 191.44 L244.98 192.98 L247.95 194.59 L250.94 196.27 L253.93 198.04 L256.94 199.89 L259.95 201.84 L262.97 203.9 L266 206.08 L269.04 208.4 L272.08 210.89 L275.12 213.56 L278.17 216.45 L281.22 219.56 L284.27 222.94 L287.33 226.61 L290.39 230.59 L293.46 234.9 L296.52 239.58 L299.59 244.62 L302.66 250.04 L305.72 255.8 L308.8 261.88 L311.87 268.17 L314.94 274.55 L318.01 280.81 L321.09 286.72 L324.16 292.05 L327.24 296.62 L330.31 300.37 L333.39 303.3 L336.47 305.52 L339.54 307.14 L342.62 308.27 L345.7 309.04 L348.77 309.55 L351.85 309.87 L354.93 310.06 L358.01 310.17 L361.09 310.24" fill="none" stroke="#000" stroke-width="3.1" stroke-linejoin="round"/>
<path d="M171.93 220.65 L173.35 221.14 L174.83 221.73 L176.39 222.41 L178.02 223.18 L179.72 224.05 L181.51 224.99 L183.36 226.02 L185.29 227.13 L187.3 228.31 L189.38 229.57 L191.52 230.9 L193.74 232.3 L196.03 233.77 L198.37 235.3 L200.78 236.91 L203.25 238.59 L205.77 240.35 L208.34 242.2 L210.96 244.15 L213.63 246.2 L216.33 248.38 L219.07 250.7 L221.85 253.17 L224.66 255.81 L227.49 258.63 L230.36 261.64 L233.24 264.84 L236.15 268.23 L239.08 271.79 L242.02 275.49 L244.98 279.28 L247.95 283.11 L250.94 286.89 L253.93 290.53 L256.94 293.94 L259.95 297.05 L262.97 299.8 L266 302.17 L269.04 304.15 L272.08 305.76 L275.12 307.03 L278.17 308 L281.22 308.73 L284.27 309.26 L287.33 309.63 L290.39 309.89 L293.46 310.05 L296.52 310.16 L299.59 310.22 L302.66 310.26 L305.72 310.28 L308.8 310.29 L311.87 310.3 L314.94 310.3 L318.01 310.3 L321.09 310.3 L324.16 310.3 L327.24 310.3 L330.31 310.3 L333.39 310.3 L336.47 310.3 L339.54 310.3 L342.62 310.3 L345.7 310.3 L348.77 310.3 L351.85 310.3 L354.93 310.3 L358.01 310.3 L361.09 310.3" fill="none" stroke="#000" stroke-width="3.1" stroke-linejoin="round" stroke-dasharray="5.5 6.6 18 6.6"/>
<rect x="160.68" y="184.1" width="22.5" height="22.5" fill="none" stroke="#000" stroke-width="3.9" stroke-linejoin="round"/>
<rect x="180.09" y="155.5" width="22.5" height="22.5" fill="none" stroke="#000" stroke-width="3.9" stroke-linejoin="round"/>
<rect x="217.22" y="175" width="22.5" height="22.5" fill="none" stroke="#000" stroke-width="3.9" stroke-linejoin="round"/>
<rect x="249.48" y="191" width="22.5" height="22.5" fill="none" stroke="#000" stroke-width="3.9" stroke-linejoin="round"/>
<rect x="282.73" y="299.05" width="22.5" height="22.5" fill="none" stroke="#000" stroke-width="3.9" stroke-linejoin="round"/>
<circle cx="171.93" cy="226.35" r="12.7" fill="#000"/>
<circle cx="191.34" cy="217.15" r="12.7" fill="#000"/>
<circle cx="228.47" cy="310.3" r="12.7" fill="#000"/>
</g>
<g transform="translate(328 316.05)">
<g stroke="#000" fill="none">
<line x1="137.5" y1="62.5" x2="137.5" y2="311.7" stroke-width="3" stroke-linecap="butt"/>
<line x1="130.1" y1="310.3" x2="140" y2="310.3" stroke-width="3" stroke-linecap="butt"/>
<line x1="136" y1="310.3" x2="161.4" y2="310.3" stroke-width="3" stroke-linecap="round"/>
<line x1="130.1" y1="227.9" x2="140" y2="227.9" stroke-width="3" stroke-linecap="butt"/>
<line x1="136" y1="227.9" x2="161.4" y2="227.9" stroke-width="3" stroke-linecap="round"/>
<line x1="130.1" y1="145.5" x2="140" y2="145.5" stroke-width="3" stroke-linecap="butt"/>
<line x1="136" y1="145.5" x2="161.4" y2="145.5" stroke-width="3" stroke-linecap="round"/>
<line x1="130.1" y1="63.1" x2="140" y2="63.1" stroke-width="3" stroke-linecap="butt"/>
<line x1="136" y1="63.1" x2="161.4" y2="63.1" stroke-width="3" stroke-linecap="round"/>
<line x1="137.5" y1="285.5" x2="145.6" y2="285.5" stroke-width="3" stroke-linecap="round"/>
<line x1="137.5" y1="270.99" x2="145.6" y2="270.99" stroke-width="3" stroke-linecap="round"/>
<line x1="137.5" y1="260.69" x2="145.6" y2="260.69" stroke-width="3" stroke-linecap="round"/>
<line x1="137.5" y1="252.7" x2="153.4" y2="252.7" stroke-width="3" stroke-linecap="round"/>
<line x1="137.5" y1="246.18" x2="145.6" y2="246.18" stroke-width="3" stroke-linecap="round"/>
<line x1="137.5" y1="240.66" x2="145.6" y2="240.66" stroke-width="3" stroke-linecap="round"/>
<line x1="137.5" y1="235.89" x2="145.6" y2="235.89" stroke-width="3" stroke-linecap="round"/>
<line x1="137.5" y1="231.67" x2="145.6" y2="231.67" stroke-width="3" stroke-linecap="round"/>
<line x1="137.5" y1="203.1" x2="145.6" y2="203.1" stroke-width="3" stroke-linecap="round"/>
<line x1="137.5" y1="188.59" x2="145.6" y2="188.59" stroke-width="3" stroke-linecap="round"/>
<line x1="137.5" y1="178.29" x2="145.6" y2="178.29" stroke-width="3" stroke-linecap="round"/>
<line x1="137.5" y1="170.3" x2="153.4" y2="170.3" stroke-width="3" stroke-linecap="round"/>
<line x1="137.5" y1="163.78" x2="145.6" y2="163.78" stroke-width="3" stroke-linecap="round"/>
<line x1="137.5" y1="158.26" x2="145.6" y2="158.26" stroke-width="3" stroke-linecap="round"/>
<line x1="137.5" y1="153.49" x2="145.6" y2="153.49" stroke-width="3" stroke-linecap="round"/>
<line x1="137.5" y1="149.27" x2="145.6" y2="149.27" stroke-width="3" stroke-linecap="round"/>
<line x1="137.5" y1="120.7" x2="145.6" y2="120.7" stroke-width="3" stroke-linecap="round"/>
<line x1="137.5" y1="106.19" x2="145.6" y2="106.19" stroke-width="3" stroke-linecap="round"/>
<line x1="137.5" y1="95.89" x2="145.6" y2="95.89" stroke-width="3" stroke-linecap="round"/>
<line x1="137.5" y1="87.9" x2="153.4" y2="87.9" stroke-width="3" stroke-linecap="round"/>
<line x1="137.5" y1="81.38" x2="145.6" y2="81.38" stroke-width="3" stroke-linecap="round"/>
<line x1="137.5" y1="75.86" x2="145.6" y2="75.86" stroke-width="3" stroke-linecap="round"/>
<line x1="137.5" y1="71.09" x2="145.6" y2="71.09" stroke-width="3" stroke-linecap="round"/>
<line x1="137.5" y1="66.87" x2="145.6" y2="66.87" stroke-width="3" stroke-linecap="round"/>
<line x1="130.1" y1="293" x2="137.5" y2="293" stroke-width="3" stroke-linecap="butt"/>
<line x1="137.6" y1="314" x2="147.4" y2="314" stroke-width="2.1" stroke-linecap="butt"/>
<line x1="138" y1="318.7" x2="147.4" y2="318.7" stroke-width="2.4" stroke-linecap="butt"/>
<line x1="138.5" y1="313.2" x2="138.5" y2="322.8" stroke-width="2" stroke-linecap="butt"/>
<line x1="143.4" y1="313.2" x2="143.4" y2="322.8" stroke-width="2.7" stroke-linecap="butt"/>
<line x1="147.2" y1="322.6" x2="373.3" y2="322.6" stroke-width="3" stroke-linecap="butt"/>
<line x1="148.6" y1="298.7" x2="148.6" y2="320" stroke-width="3" stroke-linecap="round"/>
<line x1="148.6" y1="310" x2="148.6" y2="330.3" stroke-width="3" stroke-linecap="butt"/>
<line x1="260.25" y1="298.7" x2="260.25" y2="320" stroke-width="3" stroke-linecap="round"/>
<line x1="260.25" y1="310" x2="260.25" y2="330.3" stroke-width="3" stroke-linecap="butt"/>
<line x1="371.9" y1="298.7" x2="371.9" y2="320" stroke-width="3" stroke-linecap="round"/>
<line x1="371.9" y1="310" x2="371.9" y2="330.3" stroke-width="3" stroke-linecap="butt"/>
<line x1="182.21" y1="322.6" x2="182.21" y2="315" stroke-width="3" stroke-linecap="round"/>
<line x1="201.87" y1="322.6" x2="201.87" y2="315" stroke-width="3" stroke-linecap="round"/>
<line x1="215.82" y1="322.6" x2="215.82" y2="315" stroke-width="3" stroke-linecap="round"/>
<line x1="226.64" y1="322.6" x2="226.64" y2="307.2" stroke-width="3" stroke-linecap="round"/>
<line x1="235.48" y1="322.6" x2="235.48" y2="315" stroke-width="3" stroke-linecap="round"/>
<line x1="242.96" y1="322.6" x2="242.96" y2="315" stroke-width="3" stroke-linecap="round"/>
<line x1="249.43" y1="322.6" x2="249.43" y2="315" stroke-width="3" stroke-linecap="round"/>
<line x1="255.14" y1="322.6" x2="255.14" y2="315" stroke-width="3" stroke-linecap="round"/>
<line x1="293.86" y1="322.6" x2="293.86" y2="315" stroke-width="3" stroke-linecap="round"/>
<line x1="313.52" y1="322.6" x2="313.52" y2="315" stroke-width="3" stroke-linecap="round"/>
<line x1="327.47" y1="322.6" x2="327.47" y2="315" stroke-width="3" stroke-linecap="round"/>
<line x1="338.29" y1="322.6" x2="338.29" y2="307.2" stroke-width="3" stroke-linecap="round"/>
<line x1="347.13" y1="322.6" x2="347.13" y2="315" stroke-width="3" stroke-linecap="round"/>
<line x1="354.61" y1="322.6" x2="354.61" y2="315" stroke-width="3" stroke-linecap="round"/>
<line x1="361.08" y1="322.6" x2="361.08" y2="315" stroke-width="3" stroke-linecap="round"/>
<line x1="366.79" y1="322.6" x2="366.79" y2="315" stroke-width="3" stroke-linecap="round"/>
<line x1="171.93" y1="322.6" x2="171.93" y2="330.3" stroke-width="3" stroke-linecap="butt"/>
</g>
<path d="M171.93 171.57 L173.35 170.73 L174.83 169.96 L176.39 169.28 L178.02 168.68 L179.72 168.17 L181.51 167.75 L183.36 167.42 L185.29 167.18 L187.3 167.05 L189.38 167.01 L191.52 167.08 L193.74 167.25 L196.03 167.52 L198.37 167.91 L200.78 168.4 L203.25 169 L205.77 169.7 L208.34 170.52 L210.96 171.44 L213.63 172.46 L216.33 173.58 L219.07 174.79 L221.85 176.1 L224.66 177.5 L227.49 178.98 L230.36 180.53 L233.24 182.16 L236.15 183.86 L239.08 185.63 L242.02 187.45 L244.98 189.34 L247.95 191.28 L250.94 193.28 L253.93 195.35 L256.94 197.5 L259.95 199.72 L262.97 202.05 L266 204.48 L269.04 207.05 L272.08 209.78 L275.12 212.69 L278.17 215.81 L281.22 219.17 L284.27 222.79 L287.33 226.71 L290.39 230.95 L293.46 235.55 L296.52 240.51 L299.59 245.84 L302.66 251.55 L305.72 257.61 L308.8 263.95 L311.87 270.46 L314.94 276.97 L318.01 283.25 L321.09 289.06 L324.16 294.16 L327.24 298.44 L330.31 301.85 L333.39 304.47 L336.47 306.4 L339.54 307.77 L342.62 308.71 L345.7 309.34 L348.77 309.74 L351.85 309.99 L354.93 310.13 L358.01 310.21 L361.09 310.26" fill="none" stroke="#000" stroke-width="3.1" stroke-linejoin="round"/>
<path d="M171.93 173.54 L173.35 172.2 L174.83 170.91 L176.39 169.67 L178.02 168.5 L179.72 167.39 L181.51 166.34 L183.36 165.36 L185.29 164.45 L187.3 163.62 L189.38 162.86 L191.52 162.18 L193.74 161.58 L196.03 161.07 L198.37 160.65 L200.78 160.32 L203.25 160.08 L205.77 159.93 L208.34 159.89 L210.96 159.94 L213.63 160.09 L216.33 160.34 L219.07 160.69 L221.85 161.15 L224.66 161.7 L227.49 162.36 L230.36 163.11 L233.24 163.97 L236.15 164.91 L239.08 165.95 L242.02 167.08 L244.98 168.29 L247.95 169.59 L250.94 170.96 L253.93 172.4 L256.94 173.92 L259.95 175.51 L262.97 177.16 L266 178.88 L269.04 180.67 L272.08 182.54 L275.12 184.48 L278.17 186.52 L281.22 188.66 L284.27 190.92 L287.33 193.31 L290.39 195.86 L293.46 198.6 L296.52 201.54 L299.59 204.71 L302.66 208.15 L305.72 211.88 L308.8 215.93 L311.87 220.34 L314.94 225.13 L318.01 230.32 L321.09 235.94 L324.16 241.99 L327.24 248.47 L330.31 255.34 L333.39 262.52 L336.47 269.87 L339.54 277.15 L342.62 284.07 L345.7 290.31 L348.77 295.63 L351.85 299.9 L354.93 303.18 L358.01 305.58 L361.09 307.28" fill="none" stroke="#000" stroke-width="3.1" stroke-linejoin="round" stroke-dasharray="5.5 6.6 18 6.6"/>
<rect x="160.68" y="162.1" width="22.5" height="22.5" fill="none" stroke="#000" stroke-width="3.9" stroke-linejoin="round"/>
<rect x="180.09" y="168.3" width="22.5" height="22.5" fill="none" stroke="#000" stroke-width="3.9" stroke-linejoin="round"/>
<rect x="217.22" y="126.4" width="22.5" height="22.5" fill="none" stroke="#000" stroke-width="3.9" stroke-linejoin="round"/>
<rect x="249.48" y="299.05" width="22.5" height="22.5" fill="none" stroke="#000" stroke-width="3.9" stroke-linejoin="round"/>
<circle cx="171.93" cy="190.15" r="12.7" fill="#000"/>
<circle cx="191.34" cy="144.95" r="12.7" fill="#000"/>
<circle cx="228.47" cy="147.25" r="12.7" fill="#000"/>
<circle cx="260.73" cy="177.05" r="12.7" fill="#000"/>
<circle cx="293.98" cy="310.3" r="12.7" fill="#000"/>
</g>
<g transform="translate(656 316.05)">
<g stroke="#000" fill="none">
<line x1="137.5" y1="62.5" x2="137.5" y2="311.7" stroke-width="3" stroke-linecap="butt"/>
<line x1="130.1" y1="310.3" x2="140" y2="310.3" stroke-width="3" stroke-linecap="butt"/>
<line x1="136" y1="310.3" x2="161.4" y2="310.3" stroke-width="3" stroke-linecap="round"/>
<line x1="130.1" y1="227.9" x2="140" y2="227.9" stroke-width="3" stroke-linecap="butt"/>
<line x1="136" y1="227.9" x2="161.4" y2="227.9" stroke-width="3" stroke-linecap="round"/>
<line x1="130.1" y1="145.5" x2="140" y2="145.5" stroke-width="3" stroke-linecap="butt"/>
<line x1="136" y1="145.5" x2="161.4" y2="145.5" stroke-width="3" stroke-linecap="round"/>
<line x1="130.1" y1="63.1" x2="140" y2="63.1" stroke-width="3" stroke-linecap="butt"/>
<line x1="136" y1="63.1" x2="161.4" y2="63.1" stroke-width="3" stroke-linecap="round"/>
<line x1="137.5" y1="285.5" x2="145.6" y2="285.5" stroke-width="3" stroke-linecap="round"/>
<line x1="137.5" y1="270.99" x2="145.6" y2="270.99" stroke-width="3" stroke-linecap="round"/>
<line x1="137.5" y1="260.69" x2="145.6" y2="260.69" stroke-width="3" stroke-linecap="round"/>
<line x1="137.5" y1="252.7" x2="153.4" y2="252.7" stroke-width="3" stroke-linecap="round"/>
<line x1="137.5" y1="246.18" x2="145.6" y2="246.18" stroke-width="3" stroke-linecap="round"/>
<line x1="137.5" y1="240.66" x2="145.6" y2="240.66" stroke-width="3" stroke-linecap="round"/>
<line x1="137.5" y1="235.89" x2="145.6" y2="235.89" stroke-width="3" stroke-linecap="round"/>
<line x1="137.5" y1="231.67" x2="145.6" y2="231.67" stroke-width="3" stroke-linecap="round"/>
<line x1="137.5" y1="203.1" x2="145.6" y2="203.1" stroke-width="3" stroke-linecap="round"/>
<line x1="137.5" y1="188.59" x2="145.6" y2="188.59" stroke-width="3" stroke-linecap="round"/>
<line x1="137.5" y1="178.29" x2="145.6" y2="178.29" stroke-width="3" stroke-linecap="round"/>
<line x1="137.5" y1="170.3" x2="153.4" y2="170.3" stroke-width="3" stroke-linecap="round"/>
<line x1="137.5" y1="163.78" x2="145.6" y2="163.78" stroke-width="3" stroke-linecap="round"/>
<line x1="137.5" y1="158.26" x2="145.6" y2="158.26" stroke-width="3" stroke-linecap="round"/>
<line x1="137.5" y1="153.49" x2="145.6" y2="153.49" stroke-width="3" stroke-linecap="round"/>
<line x1="137.5" y1="149.27" x2="145.6" y2="149.27" stroke-width="3" stroke-linecap="round"/>
<line x1="137.5" y1="120.7" x2="145.6" y2="120.7" stroke-width="3" stroke-linecap="round"/>
<line x1="137.5" y1="106.19" x2="145.6" y2="106.19" stroke-width="3" stroke-linecap="round"/>
<line x1="137.5" y1="95.89" x2="145.6" y2="95.89" stroke-width="3" stroke-linecap="round"/>
<line x1="137.5" y1="87.9" x2="153.4" y2="87.9" stroke-width="3" stroke-linecap="round"/>
<line x1="137.5" y1="81.38" x2="145.6" y2="81.38" stroke-width="3" stroke-linecap="round"/>
<line x1="137.5" y1="75.86" x2="145.6" y2="75.86" stroke-width="3" stroke-linecap="round"/>
<line x1="137.5" y1="71.09" x2="145.6" y2="71.09" stroke-width="3" stroke-linecap="round"/>
<line x1="137.5" y1="66.87" x2="145.6" y2="66.87" stroke-width="3" stroke-linecap="round"/>
<line x1="130.1" y1="293" x2="137.5" y2="293" stroke-width="3" stroke-linecap="butt"/>
<line x1="137.6" y1="314" x2="147.4" y2="314" stroke-width="2.1" stroke-linecap="butt"/>
<line x1="138" y1="318.7" x2="147.4" y2="318.7" stroke-width="2.4" stroke-linecap="butt"/>
<line x1="138.5" y1="313.2" x2="138.5" y2="322.8" stroke-width="2" stroke-linecap="butt"/>
<line x1="143.4" y1="313.2" x2="143.4" y2="322.8" stroke-width="2.7" stroke-linecap="butt"/>
<line x1="147.2" y1="322.6" x2="373.3" y2="322.6" stroke-width="3" stroke-linecap="butt"/>
<line x1="148.6" y1="298.7" x2="148.6" y2="320" stroke-width="3" stroke-linecap="round"/>
<line x1="148.6" y1="310" x2="148.6" y2="330.3" stroke-width="3" stroke-linecap="butt"/>
<line x1="260.25" y1="298.7" x2="260.25" y2="320" stroke-width="3" stroke-linecap="round"/>
<line x1="260.25" y1="310" x2="260.25" y2="330.3" stroke-width="3" stroke-linecap="butt"/>
<line x1="371.9" y1="298.7" x2="371.9" y2="320" stroke-width="3" stroke-linecap="round"/>
<line x1="371.9" y1="310" x2="371.9" y2="330.3" stroke-width="3" stroke-linecap="butt"/>
<line x1="182.21" y1="322.6" x2="182.21" y2="315" stroke-width="3" stroke-linecap="round"/>
<line x1="201.87" y1="322.6" x2="201.87" y2="315" stroke-width="3" stroke-linecap="round"/>
<line x1="215.82" y1="322.6" x2="215.82" y2="315" stroke-width="3" stroke-linecap="round"/>
<line x1="226.64" y1="322.6" x2="226.64" y2="307.2" stroke-width="3" stroke-linecap="round"/>
<line x1="235.48" y1="322.6" x2="235.48" y2="315" stroke-width="3" stroke-linecap="round"/>
<line x1="242.96" y1="322.6" x2="242.96" y2="315" stroke-width="3" stroke-linecap="round"/>
<line x1="249.43" y1="322.6" x2="249.43" y2="315" stroke-width="3" stroke-linecap="round"/>
<line x1="255.14" y1="322.6" x2="255.14" y2="315" stroke-width="3" stroke-linecap="round"/>
<line x1="293.86" y1="322.6" x2="293.86" y2="315" stroke-width="3" stroke-linecap="round"/>
<line x1="313.52" y1="322.6" x2="313.52" y2="315" stroke-width="3" stroke-linecap="round"/>
<line x1="327.47" y1="322.6" x2="327.47" y2="315" stroke-width="3" stroke-linecap="round"/>
<line x1="338.29" y1="322.6" x2="338.29" y2="307.2" stroke-width="3" stroke-linecap="round"/>
<line x1="347.13" y1="322.6" x2="347.13" y2="315" stroke-width="3" stroke-linecap="round"/>
<line x1="354.61" y1="322.6" x2="354.61" y2="315" stroke-width="3" stroke-linecap="round"/>
<line x1="361.08" y1="322.6" x2="361.08" y2="315" stroke-width="3" stroke-linecap="round"/>
<line x1="366.79" y1="322.6" x2="366.79" y2="315" stroke-width="3" stroke-linecap="round"/>
<line x1="171.93" y1="322.6" x2="171.93" y2="330.3" stroke-width="3" stroke-linecap="butt"/>
</g>
<path d="M171.93 162.5 L173.35 161.74 L174.83 161.05 L176.39 160.45 L178.02 159.94 L179.72 159.52 L181.51 159.19 L183.36 158.97 L185.29 158.84 L187.3 158.82 L189.38 158.9 L191.52 159.09 L193.74 159.39 L196.03 159.81 L198.37 160.33 L200.78 160.98 L203.25 161.73 L205.77 162.6 L208.34 163.58 L210.96 164.67 L213.63 165.87 L216.33 167.17 L219.07 168.57 L221.85 170.07 L224.66 171.66 L227.49 173.34 L230.36 175.1 L233.24 176.92 L236.15 178.82 L239.08 180.77 L242.02 182.79 L244.98 184.85 L247.95 186.97 L250.94 189.13 L253.93 191.35 L256.94 193.63 L259.95 195.97 L262.97 198.4 L266 200.92 L269.04 203.56 L272.08 206.34 L275.12 209.28 L278.17 212.42 L281.22 215.77 L284.27 219.39 L287.33 223.28 L290.39 227.5 L293.46 232.05 L296.52 236.97 L299.59 242.27 L302.66 247.96 L305.72 254.02 L308.8 260.41 L311.87 267.03 L314.94 273.74 L318.01 280.32 L321.09 286.51 L324.16 292.05 L327.24 296.77 L330.31 300.59 L333.39 303.55 L336.47 305.76 L339.54 307.34 L342.62 308.43 L345.7 309.16 L348.77 309.63 L351.85 309.92 L354.93 310.1 L358.01 310.19 L361.09 310.25" fill="none" stroke="#000" stroke-width="3.1" stroke-linejoin="round"/>
<path d="M171.93 175.84 L173.35 173.94 L174.83 172.05 L176.39 170.18 L178.02 168.35 L179.72 166.54 L181.51 164.75 L183.36 163 L185.29 161.28 L187.3 159.59 L189.38 157.94 L191.52 156.32 L193.74 154.75 L196.03 153.21 L198.37 151.72 L200.78 150.28 L203.25 148.88 L205.77 147.53 L208.34 146.24 L210.96 145 L213.63 143.83 L216.33 142.71 L219.07 141.66 L221.85 140.67 L224.66 139.75 L227.49 138.91 L230.36 138.14 L233.24 137.44 L236.15 136.83 L239.08 136.3 L242.02 135.85 L244.98 135.5 L247.95 135.23 L250.94 135.05 L253.93 134.96 L256.94 134.97 L259.95 135.07 L262.97 135.27 L266 135.56 L269.04 135.95 L272.08 136.43 L275.12 137.01 L278.17 137.68 L281.22 138.44 L284.27 139.28 L287.33 140.22 L290.39 141.23 L293.46 142.33 L296.52 143.5 L299.59 144.76 L302.66 146.09 L305.72 147.49 L308.8 148.97 L311.87 150.53 L314.94 152.17 L318.01 153.9 L321.09 155.73 L324.16 157.67 L327.24 159.74 L330.31 161.94 L333.39 164.3 L336.47 166.85 L339.54 169.6 L342.62 172.58 L345.7 175.82 L348.77 179.35 L351.85 183.19 L354.93 187.39 L358.01 191.97 L361.09 196.97" fill="none" stroke="#000" stroke-width="3.1" stroke-linejoin="round" stroke-dasharray="5.5 6.6 18 6.6"/>
<rect x="160.68" y="160.5" width="22.5" height="22.5" fill="none" stroke="#000" stroke-width="3.9" stroke-linejoin="round"/>
<rect x="180.09" y="147.9" width="22.5" height="22.5" fill="none" stroke="#000" stroke-width="3.9" stroke-linejoin="round"/>
<rect x="217.22" y="120.8" width="22.5" height="22.5" fill="none" stroke="#000" stroke-width="3.9" stroke-linejoin="round"/>
<rect x="249.48" y="299.05" width="22.5" height="22.5" fill="none" stroke="#000" stroke-width="3.9" stroke-linejoin="round"/>
<circle cx="171.93" cy="180.45" r="12.7" fill="#000"/>
<circle cx="191.34" cy="172.45" r="12.7" fill="#000"/>
<circle cx="228.47" cy="127.75" r="12.7" fill="#000"/>
<circle cx="260.73" cy="130.05" r="12.7" fill="#000"/>
<circle cx="293.98" cy="124.35" r="12.7" fill="#000"/>
<circle cx="327.5" cy="310.3" r="12.7" fill="#000"/>
</g>
<g transform="translate(984 316.05)">
<g stroke="#000" fill="none">
<line x1="137.5" y1="62.5" x2="137.5" y2="311.7" stroke-width="3" stroke-linecap="butt"/>
<line x1="130.1" y1="310.3" x2="140" y2="310.3" stroke-width="3" stroke-linecap="butt"/>
<line x1="136" y1="310.3" x2="161.4" y2="310.3" stroke-width="3" stroke-linecap="round"/>
<line x1="130.1" y1="227.9" x2="140" y2="227.9" stroke-width="3" stroke-linecap="butt"/>
<line x1="136" y1="227.9" x2="161.4" y2="227.9" stroke-width="3" stroke-linecap="round"/>
<line x1="130.1" y1="145.5" x2="140" y2="145.5" stroke-width="3" stroke-linecap="butt"/>
<line x1="136" y1="145.5" x2="161.4" y2="145.5" stroke-width="3" stroke-linecap="round"/>
<line x1="130.1" y1="63.1" x2="140" y2="63.1" stroke-width="3" stroke-linecap="butt"/>
<line x1="136" y1="63.1" x2="161.4" y2="63.1" stroke-width="3" stroke-linecap="round"/>
<line x1="137.5" y1="285.5" x2="145.6" y2="285.5" stroke-width="3" stroke-linecap="round"/>
<line x1="137.5" y1="270.99" x2="145.6" y2="270.99" stroke-width="3" stroke-linecap="round"/>
<line x1="137.5" y1="260.69" x2="145.6" y2="260.69" stroke-width="3" stroke-linecap="round"/>
<line x1="137.5" y1="252.7" x2="153.4" y2="252.7" stroke-width="3" stroke-linecap="round"/>
<line x1="137.5" y1="246.18" x2="145.6" y2="246.18" stroke-width="3" stroke-linecap="round"/>
<line x1="137.5" y1="240.66" x2="145.6" y2="240.66" stroke-width="3" stroke-linecap="round"/>
<line x1="137.5" y1="235.89" x2="145.6" y2="235.89" stroke-width="3" stroke-linecap="round"/>
<line x1="137.5" y1="231.67" x2="145.6" y2="231.67" stroke-width="3" stroke-linecap="round"/>
<line x1="137.5" y1="203.1" x2="145.6" y2="203.1" stroke-width="3" stroke-linecap="round"/>
<line x1="137.5" y1="188.59" x2="145.6" y2="188.59" stroke-width="3" stroke-linecap="round"/>
<line x1="137.5" y1="178.29" x2="145.6" y2="178.29" stroke-width="3" stroke-linecap="round"/>
<line x1="137.5" y1="170.3" x2="153.4" y2="170.3" stroke-width="3" stroke-linecap="round"/>
<line x1="137.5" y1="163.78" x2="145.6" y2="163.78" stroke-width="3" stroke-linecap="round"/>
<line x1="137.5" y1="158.26" x2="145.6" y2="158.26" stroke-width="3" stroke-linecap="round"/>
<line x1="137.5" y1="153.49" x2="145.6" y2="153.49" stroke-width="3" stroke-linecap="round"/>
<line x1="137.5" y1="149.27" x2="145.6" y2="149.27" stroke-width="3" stroke-linecap="round"/>
<line x1="137.5" y1="120.7" x2="145.6" y2="120.7" stroke-width="3" stroke-linecap="round"/>
<line x1="137.5" y1="106.19" x2="145.6" y2="106.19" stroke-width="3" stroke-linecap="round"/>
<line x1="137.5" y1="95.89" x2="145.6" y2="95.89" stroke-width="3" stroke-linecap="round"/>
<line x1="137.5" y1="87.9" x2="153.4" y2="87.9" stroke-width="3" stroke-linecap="round"/>
<line x1="137.5" y1="81.38" x2="145.6" y2="81.38" stroke-width="3" stroke-linecap="round"/>
<line x1="137.5" y1="75.86" x2="145.6" y2="75.86" stroke-width="3" stroke-linecap="round"/>
<line x1="137.5" y1="71.09" x2="145.6" y2="71.09" stroke-width="3" stroke-linecap="round"/>
<line x1="137.5" y1="66.87" x2="145.6" y2="66.87" stroke-width="3" stroke-linecap="round"/>
<line x1="130.1" y1="293" x2="137.5" y2="293" stroke-width="3" stroke-linecap="butt"/>
<line x1="137.6" y1="314" x2="147.4" y2="314" stroke-width="2.1" stroke-linecap="butt"/>
<line x1="138" y1="318.7" x2="147.4" y2="318.7" stroke-width="2.4" stroke-linecap="butt"/>
<line x1="138.5" y1="313.2" x2="138.5" y2="322.8" stroke-width="2" stroke-linecap="butt"/>
<line x1="143.4" y1="313.2" x2="143.4" y2="322.8" stroke-width="2.7" stroke-linecap="butt"/>
<line x1="147.2" y1="322.6" x2="373.3" y2="322.6" stroke-width="3" stroke-linecap="butt"/>
<line x1="148.6" y1="298.7" x2="148.6" y2="320" stroke-width="3" stroke-linecap="round"/>
<line x1="148.6" y1="310" x2="148.6" y2="330.3" stroke-width="3" stroke-linecap="butt"/>
<line x1="260.25" y1="298.7" x2="260.25" y2="320" stroke-width="3" stroke-linecap="round"/>
<line x1="260.25" y1="310" x2="260.25" y2="330.3" stroke-width="3" stroke-linecap="butt"/>
<line x1="371.9" y1="298.7" x2="371.9" y2="320" stroke-width="3" stroke-linecap="round"/>
<line x1="371.9" y1="310" x2="371.9" y2="330.3" stroke-width="3" stroke-linecap="butt"/>
<line x1="182.21" y1="322.6" x2="182.21" y2="315" stroke-width="3" stroke-linecap="round"/>
<line x1="201.87" y1="322.6" x2="201.87" y2="315" stroke-width="3" stroke-linecap="round"/>
<line x1="215.82" y1="322.6" x2="215.82" y2="315" stroke-width="3" stroke-linecap="round"/>
<line x1="226.64" y1="322.6" x2="226.64" y2="307.2" stroke-width="3" stroke-linecap="round"/>
<line x1="235.48" y1="322.6" x2="235.48" y2="315" stroke-width="3" stroke-linecap="round"/>
<line x1="242.96" y1="322.6" x2="242.96" y2="315" stroke-width="3" stroke-linecap="round"/>
<line x1="249.43" y1="322.6" x2="249.43" y2="315" stroke-width="3" stroke-linecap="round"/>
<line x1="255.14" y1="322.6" x2="255.14" y2="315" stroke-width="3" stroke-linecap="round"/>
<line x1="293.86" y1="322.6" x2="293.86" y2="315" stroke-width="3" stroke-linecap="round"/>
<line x1="313.52" y1="322.6" x2="313.52" y2="315" stroke-width="3" stroke-linecap="round"/>
<line x1="327.47" y1="322.6" x2="327.47" y2="315" stroke-width="3" stroke-linecap="round"/>
<line x1="338.29" y1="322.6" x2="338.29" y2="307.2" stroke-width="3" stroke-linecap="round"/>
<line x1="347.13" y1="322.6" x2="347.13" y2="315" stroke-width="3" stroke-linecap="round"/>
<line x1="354.61" y1="322.6" x2="354.61" y2="315" stroke-width="3" stroke-linecap="round"/>
<line x1="361.08" y1="322.6" x2="361.08" y2="315" stroke-width="3" stroke-linecap="round"/>
<line x1="366.79" y1="322.6" x2="366.79" y2="315" stroke-width="3" stroke-linecap="round"/>
<line x1="171.93" y1="322.6" x2="171.93" y2="330.3" stroke-width="3" stroke-linecap="butt"/>
</g>
<path d="M171.93 195.91 L173.35 193.8 L174.83 191.7 L176.39 189.61 L178.02 187.53 L179.72 185.46 L181.51 183.4 L183.36 181.36 L185.29 179.33 L187.3 177.32 L189.38 175.32 L191.52 173.34 L193.74 171.38 L196.03 169.43 L198.37 167.51 L200.78 165.61 L203.25 163.73 L205.77 161.88 L208.34 160.05 L210.96 158.24 L213.63 156.47 L216.33 154.73 L219.07 153.02 L221.85 151.34 L224.66 149.7 L227.49 148.09 L230.36 146.52 L233.24 145 L236.15 143.52 L239.08 142.08 L242.02 140.69 L244.98 139.36 L247.95 138.07 L250.94 136.84 L253.93 135.66 L256.94 134.55 L259.95 133.49 L262.97 132.51 L266 131.58 L269.04 130.73 L272.08 129.94 L275.12 129.23 L278.17 128.6 L281.22 128.04 L284.27 127.56 L287.33 127.16 L290.39 126.84 L293.46 126.6 L296.52 126.45 L299.59 126.38 L302.66 126.4 L305.72 126.5 L308.8 126.69 L311.87 126.96 L314.94 127.32 L318.01 127.77 L321.09 128.3 L324.16 128.91 L327.24 129.61 L330.31 130.39 L333.39 131.26 L336.47 132.22 L339.54 133.27 L342.62 134.41 L345.7 135.66 L348.77 137.01 L351.85 138.49 L354.93 140.09 L358.01 141.83 L361.09 143.73" fill="none" stroke="#000" stroke-width="3.1" stroke-linejoin="round"/>
<path d="M171.93 171.08 L173.35 169.29 L174.83 167.53 L176.39 165.81 L178.02 164.11 L179.72 162.45 L181.51 160.83 L183.36 159.25 L185.29 157.71 L187.3 156.21 L189.38 154.76 L191.52 153.36 L193.74 152.01 L196.03 150.71 L198.37 149.46 L200.78 148.28 L203.25 147.16 L205.77 146.1 L208.34 145.11 L210.96 144.18 L213.63 143.33 L216.33 142.56 L219.07 141.86 L221.85 141.25 L224.66 140.72 L227.49 140.27 L230.36 139.92 L233.24 139.65 L236.15 139.48 L239.08 139.4 L242.02 139.42 L244.98 139.54 L247.95 139.75 L250.94 140.07 L253.93 140.48 L256.94 140.99 L259.95 141.6 L262.97 142.3 L266 143.1 L269.04 144 L272.08 144.98 L275.12 146.05 L278.17 147.2 L281.22 148.43 L284.27 149.74 L287.33 151.12 L290.39 152.58 L293.46 154.1 L296.52 155.7 L299.59 157.37 L302.66 159.12 L305.72 160.95 L308.8 162.87 L311.87 164.89 L314.94 167.03 L318.01 169.3 L321.09 171.73 L324.16 174.32 L327.24 177.12 L330.31 180.14 L333.39 183.42 L336.47 186.98 L339.54 190.86 L342.62 195.08 L345.7 199.68 L348.77 204.7 L351.85 210.15 L354.93 216.08 L358.01 222.51 L361.09 229.46" fill="none" stroke="#000" stroke-width="3.1" stroke-linejoin="round" stroke-dasharray="5.5 6.6 18 6.6"/>
<rect x="160.68" y="173.9" width="22.5" height="22.5" fill="none" stroke="#000" stroke-width="3.9" stroke-linejoin="round"/>
<rect x="180.09" y="183.4" width="22.5" height="22.5" fill="none" stroke="#000" stroke-width="3.9" stroke-linejoin="round"/>
<rect x="217.22" y="146.2" width="22.5" height="22.5" fill="none" stroke="#000" stroke-width="3.9" stroke-linejoin="round"/>
<rect x="249.48" y="117.2" width="22.5" height="22.5" fill="none" stroke="#000" stroke-width="3.9" stroke-linejoin="round"/>
<rect x="282.73" y="88.9" width="22.5" height="22.5" fill="none" stroke="#000" stroke-width="3.9" stroke-linejoin="round"/>
<rect x="316.25" y="115.7" width="22.5" height="22.5" fill="none" stroke="#000" stroke-width="3.9" stroke-linejoin="round"/>
<rect x="349.84" y="299.05" width="22.5" height="22.5" fill="none" stroke="#000" stroke-width="3.9" stroke-linejoin="round"/>
<circle cx="171.93" cy="178.95" r="12.7" fill="#000"/>
<circle cx="191.34" cy="166.65" r="12.7" fill="#000"/>
<circle cx="228.47" cy="113.85" r="12.7" fill="#000"/>
<circle cx="260.73" cy="141.35" r="12.7" fill="#000"/>
<circle cx="293.98" cy="151.75" r="12.7" fill="#000"/>
<circle cx="327.5" cy="310.3" r="12.7" fill="#000"/>
</g>
<g transform="translate(0 632.1)">
<g stroke="#000" fill="none">
<line x1="137.5" y1="62.5" x2="137.5" y2="311.7" stroke-width="3" stroke-linecap="butt"/>
<line x1="130.1" y1="310.3" x2="140" y2="310.3" stroke-width="3" stroke-linecap="butt"/>
<line x1="136" y1="310.3" x2="161.4" y2="310.3" stroke-width="3" stroke-linecap="round"/>
<line x1="130.1" y1="227.9" x2="140" y2="227.9" stroke-width="3" stroke-linecap="butt"/>
<line x1="136" y1="227.9" x2="161.4" y2="227.9" stroke-width="3" stroke-linecap="round"/>
<line x1="130.1" y1="145.5" x2="140" y2="145.5" stroke-width="3" stroke-linecap="butt"/>
<line x1="136" y1="145.5" x2="161.4" y2="145.5" stroke-width="3" stroke-linecap="round"/>
<line x1="130.1" y1="63.1" x2="140" y2="63.1" stroke-width="3" stroke-linecap="butt"/>
<line x1="136" y1="63.1" x2="161.4" y2="63.1" stroke-width="3" stroke-linecap="round"/>
<line x1="137.5" y1="285.5" x2="145.6" y2="285.5" stroke-width="3" stroke-linecap="round"/>
<line x1="137.5" y1="270.99" x2="145.6" y2="270.99" stroke-width="3" stroke-linecap="round"/>
<line x1="137.5" y1="260.69" x2="145.6" y2="260.69" stroke-width="3" stroke-linecap="round"/>
<line x1="137.5" y1="252.7" x2="153.4" y2="252.7" stroke-width="3" stroke-linecap="round"/>
<line x1="137.5" y1="246.18" x2="145.6" y2="246.18" stroke-width="3" stroke-linecap="round"/>
<line x1="137.5" y1="240.66" x2="145.6" y2="240.66" stroke-width="3" stroke-linecap="round"/>
<line x1="137.5" y1="235.89" x2="145.6" y2="235.89" stroke-width="3" stroke-linecap="round"/>
<line x1="137.5" y1="231.67" x2="145.6" y2="231.67" stroke-width="3" stroke-linecap="round"/>
<line x1="137.5" y1="203.1" x2="145.6" y2="203.1" stroke-width="3" stroke-linecap="round"/>
<line x1="137.5" y1="188.59" x2="145.6" y2="188.59" stroke-width="3" stroke-linecap="round"/>
<line x1="137.5" y1="178.29" x2="145.6" y2="178.29" stroke-width="3" stroke-linecap="round"/>
<line x1="137.5" y1="170.3" x2="153.4" y2="170.3" stroke-width="3" stroke-linecap="round"/>
<line x1="137.5" y1="163.78" x2="145.6" y2="163.78" stroke-width="3" stroke-linecap="round"/>
<line x1="137.5" y1="158.26" x2="145.6" y2="158.26" stroke-width="3" stroke-linecap="round"/>
<line x1="137.5" y1="153.49" x2="145.6" y2="153.49" stroke-width="3" stroke-linecap="round"/>
<line x1="137.5" y1="149.27" x2="145.6" y2="149.27" stroke-width="3" stroke-linecap="round"/>
<line x1="137.5" y1="120.7" x2="145.6" y2="120.7" stroke-width="3" stroke-linecap="round"/>
<line x1="137.5" y1="106.19" x2="145.6" y2="106.19" stroke-width="3" stroke-linecap="round"/>
<line x1="137.5" y1="95.89" x2="145.6" y2="95.89" stroke-width="3" stroke-linecap="round"/>
<line x1="137.5" y1="87.9" x2="153.4" y2="87.9" stroke-width="3" stroke-linecap="round"/>
<line x1="137.5" y1="81.38" x2="145.6" y2="81.38" stroke-width="3" stroke-linecap="round"/>
<line x1="137.5" y1="75.86" x2="145.6" y2="75.86" stroke-width="3" stroke-linecap="round"/>
<line x1="137.5" y1="71.09" x2="145.6" y2="71.09" stroke-width="3" stroke-linecap="round"/>
<line x1="137.5" y1="66.87" x2="145.6" y2="66.87" stroke-width="3" stroke-linecap="round"/>
<line x1="130.1" y1="293" x2="137.5" y2="293" stroke-width="3" stroke-linecap="butt"/>
<line x1="137.6" y1="314" x2="147.4" y2="314" stroke-width="2.1" stroke-linecap="butt"/>
<line x1="138" y1="318.7" x2="147.4" y2="318.7" stroke-width="2.4" stroke-linecap="butt"/>
<line x1="138.5" y1="313.2" x2="138.5" y2="322.8" stroke-width="2" stroke-linecap="butt"/>
<line x1="143.4" y1="313.2" x2="143.4" y2="322.8" stroke-width="2.7" stroke-linecap="butt"/>
<line x1="147.2" y1="322.6" x2="373.3" y2="322.6" stroke-width="3" stroke-linecap="butt"/>
<line x1="148.6" y1="298.7" x2="148.6" y2="320" stroke-width="3" stroke-linecap="round"/>
<line x1="148.6" y1="310" x2="148.6" y2="330.3" stroke-width="3" stroke-linecap="butt"/>
<line x1="260.25" y1="298.7" x2="260.25" y2="320" stroke-width="3" stroke-linecap="round"/>
<line x1="260.25" y1="310" x2="260.25" y2="330.3" stroke-width="3" stroke-linecap="butt"/>
<line x1="371.9" y1="298.7" x2="371.9" y2="320" stroke-width="3" stroke-linecap="round"/>
<line x1="371.9" y1="310" x2="371.9" y2="330.3" stroke-width="3" stroke-linecap="butt"/>
<line x1="182.21" y1="322.6" x2="182.21" y2="315" stroke-width="3" stroke-linecap="round"/>
<line x1="201.87" y1="322.6" x2="201.87" y2="315" stroke-width="3" stroke-linecap="round"/>
<line x1="215.82" y1="322.6" x2="215.82" y2="315" stroke-width="3" stroke-linecap="round"/>
<line x1="226.64" y1="322.6" x2="226.64" y2="307.2" stroke-width="3" stroke-linecap="round"/>
<line x1="235.48" y1="322.6" x2="235.48" y2="315" stroke-width="3" stroke-linecap="round"/>
<line x1="242.96" y1="322.6" x2="242.96" y2="315" stroke-width="3" stroke-linecap="round"/>
<line x1="249.43" y1="322.6" x2="249.43" y2="315" stroke-width="3" stroke-linecap="round"/>
<line x1="255.14" y1="322.6" x2="255.14" y2="315" stroke-width="3" stroke-linecap="round"/>
<line x1="293.86" y1="322.6" x2="293.86" y2="315" stroke-width="3" stroke-linecap="round"/>
<line x1="313.52" y1="322.6" x2="313.52" y2="315" stroke-width="3" stroke-linecap="round"/>
<line x1="327.47" y1="322.6" x2="327.47" y2="315" stroke-width="3" stroke-linecap="round"/>
<line x1="338.29" y1="322.6" x2="338.29" y2="307.2" stroke-width="3" stroke-linecap="round"/>
<line x1="347.13" y1="322.6" x2="347.13" y2="315" stroke-width="3" stroke-linecap="round"/>
<line x1="354.61" y1="322.6" x2="354.61" y2="315" stroke-width="3" stroke-linecap="round"/>
<line x1="361.08" y1="322.6" x2="361.08" y2="315" stroke-width="3" stroke-linecap="round"/>
<line x1="366.79" y1="322.6" x2="366.79" y2="315" stroke-width="3" stroke-linecap="round"/>
<line x1="171.93" y1="322.6" x2="171.93" y2="330.3" stroke-width="3" stroke-linecap="butt"/>
</g>
<path d="M171.93 193.88 L173.35 193.16 L174.83 192.51 L176.39 191.95 L178.02 191.48 L179.72 191.09 L181.51 190.78 L183.36 190.57 L185.29 190.45 L187.3 190.43 L189.38 190.5 L191.52 190.67 L193.74 190.93 L196.03 191.29 L198.37 191.75 L200.78 192.3 L203.25 192.94 L205.77 193.68 L208.34 194.51 L210.96 195.43 L213.63 196.43 L216.33 197.51 L219.07 198.67 L221.85 199.91 L224.66 201.23 L227.49 202.61 L230.36 204.07 L233.24 205.61 L236.15 207.22 L239.08 208.91 L242.02 210.69 L244.98 212.56 L247.95 214.54 L250.94 216.64 L253.93 218.88 L256.94 221.28 L259.95 223.85 L262.97 226.62 L266 229.61 L269.04 232.85 L272.08 236.36 L275.12 240.16 L278.17 244.27 L281.22 248.71 L284.27 253.46 L287.33 258.53 L290.39 263.87 L293.46 269.42 L296.52 275.07 L299.59 280.67 L302.66 286.05 L305.72 291 L308.8 295.39 L311.87 299.1 L314.94 302.13 L318.01 304.51 L321.09 306.31 L324.16 307.64 L327.24 308.57 L330.31 309.22 L333.39 309.65 L336.47 309.92 L339.54 310.09 L342.62 310.19 L345.7 310.24 L348.77 310.27 L351.85 310.29 L354.93 310.29 L358.01 310.3 L361.09 310.3" fill="none" stroke="#000" stroke-width="3.1" stroke-linejoin="round"/>
<path d="M171.93 199.18 L173.35 197.89 L174.83 196.65 L176.39 195.48 L178.02 194.36 L179.72 193.3 L181.51 192.31 L183.36 191.38 L185.29 190.53 L187.3 189.74 L189.38 189.03 L191.52 188.4 L193.74 187.85 L196.03 187.38 L198.37 186.99 L200.78 186.68 L203.25 186.46 L205.77 186.33 L208.34 186.29 L210.96 186.33 L213.63 186.47 L216.33 186.69 L219.07 187 L221.85 187.4 L224.66 187.89 L227.49 188.46 L230.36 189.12 L233.24 189.86 L236.15 190.69 L239.08 191.6 L242.02 192.59 L244.98 193.66 L247.95 194.81 L250.94 196.05 L253.93 197.37 L256.94 198.79 L259.95 200.31 L262.97 201.94 L266 203.69 L269.04 205.57 L272.08 207.6 L275.12 209.79 L278.17 212.17 L281.22 214.76 L284.27 217.58 L287.33 220.65 L290.39 224 L293.46 227.65 L296.52 231.63 L299.59 235.96 L302.66 240.65 L305.72 245.71 L308.8 251.15 L311.87 256.93 L314.94 263.01 L318.01 269.3 L321.09 275.63 L324.16 281.82 L327.24 287.62 L330.31 292.82 L333.39 297.25 L336.47 300.86 L339.54 303.67 L342.62 305.79 L345.7 307.33 L348.77 308.4 L351.85 309.13 L354.93 309.6 L358.01 309.9 L361.09 310.08" fill="none" stroke="#000" stroke-width="3.1" stroke-linejoin="round" stroke-dasharray="5.5 6.6 18 6.6"/>
<rect x="160.68" y="192.55" width="22.5" height="22.5" fill="none" stroke="#000" stroke-width="3.9" stroke-linejoin="round"/>
<rect x="180.09" y="157.25" width="22.5" height="22.5" fill="none" stroke="#000" stroke-width="3.9" stroke-linejoin="round"/>
<rect x="217.22" y="183.65" width="22.5" height="22.5" fill="none" stroke="#000" stroke-width="3.9" stroke-linejoin="round"/>
<rect x="249.48" y="299.05" width="22.5" height="22.5" fill="none" stroke="#000" stroke-width="3.9" stroke-linejoin="round"/>
<circle cx="171.93" cy="203.4" r="12.7" fill="#000"/>
<circle cx="191.34" cy="180.4" r="12.7" fill="#000"/>
<circle cx="228.47" cy="184.3" r="12.7" fill="#000"/>
<circle cx="260.73" cy="201.5" r="12.7" fill="#000"/>
<circle cx="293.98" cy="310.3" r="12.7" fill="#000"/>
</g>
<g transform="translate(328 632.1)">
<g stroke="#000" fill="none">
<line x1="137.5" y1="62.5" x2="137.5" y2="311.7" stroke-width="3" stroke-linecap="butt"/>
<line x1="130.1" y1="310.3" x2="140" y2="310.3" stroke-width="3" stroke-linecap="butt"/>
<line x1="136" y1="310.3" x2="161.4" y2="310.3" stroke-width="3" stroke-linecap="round"/>
<line x1="130.1" y1="227.9" x2="140" y2="227.9" stroke-width="3" stroke-linecap="butt"/>
<line x1="136" y1="227.9" x2="161.4" y2="227.9" stroke-width="3" stroke-linecap="round"/>
<line x1="130.1" y1="145.5" x2="140" y2="145.5" stroke-width="3" stroke-linecap="butt"/>
<line x1="136" y1="145.5" x2="161.4" y2="145.5" stroke-width="3" stroke-linecap="round"/>
<line x1="130.1" y1="63.1" x2="140" y2="63.1" stroke-width="3" stroke-linecap="butt"/>
<line x1="136" y1="63.1" x2="161.4" y2="63.1" stroke-width="3" stroke-linecap="round"/>
<line x1="137.5" y1="285.5" x2="145.6" y2="285.5" stroke-width="3" stroke-linecap="round"/>
<line x1="137.5" y1="270.99" x2="145.6" y2="270.99" stroke-width="3" stroke-linecap="round"/>
<line x1="137.5" y1="260.69" x2="145.6" y2="260.69" stroke-width="3" stroke-linecap="round"/>
<line x1="137.5" y1="252.7" x2="153.4" y2="252.7" stroke-width="3" stroke-linecap="round"/>
<line x1="137.5" y1="246.18" x2="145.6" y2="246.18" stroke-width="3" stroke-linecap="round"/>
<line x1="137.5" y1="240.66" x2="145.6" y2="240.66" stroke-width="3" stroke-linecap="round"/>
<line x1="137.5" y1="235.89" x2="145.6" y2="235.89" stroke-width="3" stroke-linecap="round"/>
<line x1="137.5" y1="231.67" x2="145.6" y2="231.67" stroke-width="3" stroke-linecap="round"/>
<line x1="137.5" y1="203.1" x2="145.6" y2="203.1" stroke-width="3" stroke-linecap="round"/>
<line x1="137.5" y1="188.59" x2="145.6" y2="188.59" stroke-width="3" stroke-linecap="round"/>
<line x1="137.5" y1="178.29" x2="145.6" y2="178.29" stroke-width="3" stroke-linecap="round"/>
<line x1="137.5" y1="170.3" x2="153.4" y2="170.3" stroke-width="3" stroke-linecap="round"/>
<line x1="137.5" y1="163.78" x2="145.6" y2="163.78" stroke-width="3" stroke-linecap="round"/>
<line x1="137.5" y1="158.26" x2="145.6" y2="158.26" stroke-width="3" stroke-linecap="round"/>
<line x1="137.5" y1="153.49" x2="145.6" y2="153.49" stroke-width="3" stroke-linecap="round"/>
<line x1="137.5" y1="149.27" x2="145.6" y2="149.27" stroke-width="3" stroke-linecap="round"/>
<line x1="137.5" y1="120.7" x2="145.6" y2="120.7" stroke-width="3" stroke-linecap="round"/>
<line x1="137.5" y1="106.19" x2="145.6" y2="106.19" stroke-width="3" stroke-linecap="round"/>
<line x1="137.5" y1="95.89" x2="145.6" y2="95.89" stroke-width="3" stroke-linecap="round"/>
<line x1="137.5" y1="87.9" x2="153.4" y2="87.9" stroke-width="3" stroke-linecap="round"/>
<line x1="137.5" y1="81.38" x2="145.6" y2="81.38" stroke-width="3" stroke-linecap="round"/>
<line x1="137.5" y1="75.86" x2="145.6" y2="75.86" stroke-width="3" stroke-linecap="round"/>
<line x1="137.5" y1="71.09" x2="145.6" y2="71.09" stroke-width="3" stroke-linecap="round"/>
<line x1="137.5" y1="66.87" x2="145.6" y2="66.87" stroke-width="3" stroke-linecap="round"/>
<line x1="130.1" y1="293" x2="137.5" y2="293" stroke-width="3" stroke-linecap="butt"/>
<line x1="137.6" y1="314" x2="147.4" y2="314" stroke-width="2.1" stroke-linecap="butt"/>
<line x1="138" y1="318.7" x2="147.4" y2="318.7" stroke-width="2.4" stroke-linecap="butt"/>
<line x1="138.5" y1="313.2" x2="138.5" y2="322.8" stroke-width="2" stroke-linecap="butt"/>
<line x1="143.4" y1="313.2" x2="143.4" y2="322.8" stroke-width="2.7" stroke-linecap="butt"/>
<line x1="147.2" y1="322.6" x2="373.3" y2="322.6" stroke-width="3" stroke-linecap="butt"/>
<line x1="148.6" y1="298.7" x2="148.6" y2="320" stroke-width="3" stroke-linecap="round"/>
<line x1="148.6" y1="310" x2="148.6" y2="330.3" stroke-width="3" stroke-linecap="butt"/>
<line x1="260.25" y1="298.7" x2="260.25" y2="320" stroke-width="3" stroke-linecap="round"/>
<line x1="260.25" y1="310" x2="260.25" y2="330.3" stroke-width="3" stroke-linecap="butt"/>
<line x1="371.9" y1="298.7" x2="371.9" y2="320" stroke-width="3" stroke-linecap="round"/>
<line x1="371.9" y1="310" x2="371.9" y2="330.3" stroke-width="3" stroke-linecap="butt"/>
<line x1="182.21" y1="322.6" x2="182.21" y2="315" stroke-width="3" stroke-linecap="round"/>
<line x1="201.87" y1="322.6" x2="201.87" y2="315" stroke-width="3" stroke-linecap="round"/>
<line x1="215.82" y1="322.6" x2="215.82" y2="315" stroke-width="3" stroke-linecap="round"/>
<line x1="226.64" y1="322.6" x2="226.64" y2="307.2" stroke-width="3" stroke-linecap="round"/>
<line x1="235.48" y1="322.6" x2="235.48" y2="315" stroke-width="3" stroke-linecap="round"/>
<line x1="242.96" y1="322.6" x2="242.96" y2="315" stroke-width="3" stroke-linecap="round"/>
<line x1="249.43" y1="322.6" x2="249.43" y2="315" stroke-width="3" stroke-linecap="round"/>
<line x1="255.14" y1="322.6" x2="255.14" y2="315" stroke-width="3" stroke-linecap="round"/>
<line x1="293.86" y1="322.6" x2="293.86" y2="315" stroke-width="3" stroke-linecap="round"/>
<line x1="313.52" y1="322.6" x2="313.52" y2="315" stroke-width="3" stroke-linecap="round"/>
<line x1="327.47" y1="322.6" x2="327.47" y2="315" stroke-width="3" stroke-linecap="round"/>
<line x1="338.29" y1="322.6" x2="338.29" y2="307.2" stroke-width="3" stroke-linecap="round"/>
<line x1="347.13" y1="322.6" x2="347.13" y2="315" stroke-width="3" stroke-linecap="round"/>
<line x1="354.61" y1="322.6" x2="354.61" y2="315" stroke-width="3" stroke-linecap="round"/>
<line x1="361.08" y1="322.6" x2="361.08" y2="315" stroke-width="3" stroke-linecap="round"/>
<line x1="366.79" y1="322.6" x2="366.79" y2="315" stroke-width="3" stroke-linecap="round"/>
<line x1="171.93" y1="322.6" x2="171.93" y2="330.3" stroke-width="3" stroke-linecap="butt"/>
</g>
<path d="M171.93 162.78 L173.35 161.29 L174.83 159.85 L176.39 158.45 L178.02 157.11 L179.72 155.82 L181.51 154.59 L183.36 153.41 L185.29 152.31 L187.3 151.26 L189.38 150.29 L191.52 149.38 L193.74 148.55 L196.03 147.8 L198.37 147.13 L200.78 146.55 L203.25 146.05 L205.77 145.64 L208.34 145.33 L210.96 145.11 L213.63 144.98 L216.33 144.96 L219.07 145.04 L221.85 145.22 L224.66 145.51 L227.49 145.91 L230.36 146.41 L233.24 147.01 L236.15 147.73 L239.08 148.54 L242.02 149.46 L244.98 150.48 L247.95 151.6 L250.94 152.81 L253.93 154.11 L256.94 155.5 L259.95 156.96 L262.97 158.51 L266 160.12 L269.04 161.81 L272.08 163.55 L275.12 165.36 L278.17 167.23 L281.22 169.17 L284.27 171.17 L287.33 173.24 L290.39 175.39 L293.46 177.64 L296.52 179.99 L299.59 182.48 L302.66 185.11 L305.72 187.92 L308.8 190.93 L311.87 194.17 L314.94 197.67 L318.01 201.47 L321.09 205.59 L324.16 210.06 L327.24 214.93 L330.31 220.22 L333.39 225.95 L336.47 232.15 L339.54 238.83 L342.62 245.97 L345.7 253.55 L348.77 261.45 L351.85 269.52 L354.93 277.45 L358.01 284.88 L361.09 291.43" fill="none" stroke="#000" stroke-width="3.1" stroke-linejoin="round"/>
<path d="M171.93 163.03 L173.35 161.54 L174.83 160.09 L176.39 158.69 L178.02 157.34 L179.72 156.04 L181.51 154.8 L183.36 153.62 L185.29 152.51 L187.3 151.46 L189.38 150.47 L191.52 149.56 L193.74 148.73 L196.03 147.97 L198.37 147.29 L200.78 146.69 L203.25 146.18 L205.77 145.76 L208.34 145.44 L210.96 145.21 L213.63 145.07 L216.33 145.04 L219.07 145.1 L221.85 145.27 L224.66 145.55 L227.49 145.93 L230.36 146.42 L233.24 147.01 L236.15 147.71 L239.08 148.51 L242.02 149.42 L244.98 150.42 L247.95 151.53 L250.94 152.73 L253.93 154.01 L256.94 155.39 L259.95 156.84 L262.97 158.37 L266 159.98 L269.04 161.65 L272.08 163.38 L275.12 165.18 L278.17 167.04 L281.22 168.97 L284.27 170.96 L287.33 173.02 L290.39 175.16 L293.46 177.4 L296.52 179.74 L299.59 182.21 L302.66 184.83 L305.72 187.62 L308.8 190.62 L311.87 193.84 L314.94 197.32 L318.01 201.09 L321.09 205.18 L324.16 209.63 L327.24 214.47 L330.31 219.72 L333.39 225.42 L336.47 231.59 L339.54 238.23 L342.62 245.34 L345.7 252.89 L348.77 260.78 L351.85 268.85 L354.93 276.81 L358.01 284.3 L361.09 290.94" fill="none" stroke="#000" stroke-width="3.1" stroke-linejoin="round" stroke-dasharray="5.5 6.6 18 6.6"/>
<rect x="160.68" y="151.75" width="22.5" height="22.5" fill="none" stroke="#000" stroke-width="3.9" stroke-linejoin="round"/>
<rect x="180.09" y="137.05" width="22.5" height="22.5" fill="none" stroke="#000" stroke-width="3.9" stroke-linejoin="round"/>
<rect x="217.22" y="148.05" width="22.5" height="22.5" fill="none" stroke="#000" stroke-width="3.9" stroke-linejoin="round"/>
<rect x="249.48" y="136.85" width="22.5" height="22.5" fill="none" stroke="#000" stroke-width="3.9" stroke-linejoin="round"/>
<rect x="282.73" y="165.95" width="22.5" height="22.5" fill="none" stroke="#000" stroke-width="3.9" stroke-linejoin="round"/>
<rect x="316.25" y="299.05" width="22.5" height="22.5" fill="none" stroke="#000" stroke-width="3.9" stroke-linejoin="round"/>
<circle cx="171.93" cy="170.6" r="12.7" fill="#000"/>
<circle cx="191.34" cy="148.3" r="12.7" fill="#000"/>
<circle cx="228.47" cy="140.8" r="12.7" fill="#000"/>
<circle cx="260.73" cy="158.7" r="12.7" fill="#000"/>
<circle cx="293.98" cy="177.5" r="12.7" fill="#000"/>
<circle cx="327.5" cy="310.3" r="12.7" fill="#000"/>
</g>
<g transform="translate(656 632.1)">
<g stroke="#000" fill="none">
<line x1="137.5" y1="62.5" x2="137.5" y2="311.7" stroke-width="3" stroke-linecap="butt"/>
<line x1="130.1" y1="310.3" x2="140" y2="310.3" stroke-width="3" stroke-linecap="butt"/>
<line x1="136" y1="310.3" x2="161.4" y2="310.3" stroke-width="3" stroke-linecap="round"/>
<line x1="130.1" y1="227.9" x2="140" y2="227.9" stroke-width="3" stroke-linecap="butt"/>
<line x1="136" y1="227.9" x2="161.4" y2="227.9" stroke-width="3" stroke-linecap="round"/>
<line x1="130.1" y1="145.5" x2="140" y2="145.5" stroke-width="3" stroke-linecap="butt"/>
<line x1="136" y1="145.5" x2="161.4" y2="145.5" stroke-width="3" stroke-linecap="round"/>
<line x1="130.1" y1="63.1" x2="140" y2="63.1" stroke-width="3" stroke-linecap="butt"/>
<line x1="136" y1="63.1" x2="161.4" y2="63.1" stroke-width="3" stroke-linecap="round"/>
<line x1="137.5" y1="285.5" x2="145.6" y2="285.5" stroke-width="3" stroke-linecap="round"/>
<line x1="137.5" y1="270.99" x2="145.6" y2="270.99" stroke-width="3" stroke-linecap="round"/>
<line x1="137.5" y1="260.69" x2="145.6" y2="260.69" stroke-width="3" stroke-linecap="round"/>
<line x1="137.5" y1="252.7" x2="153.4" y2="252.7" stroke-width="3" stroke-linecap="round"/>
<line x1="137.5" y1="246.18" x2="145.6" y2="246.18" stroke-width="3" stroke-linecap="round"/>
<line x1="137.5" y1="240.66" x2="145.6" y2="240.66" stroke-width="3" stroke-linecap="round"/>
<line x1="137.5" y1="235.89" x2="145.6" y2="235.89" stroke-width="3" stroke-linecap="round"/>
<line x1="137.5" y1="231.67" x2="145.6" y2="231.67" stroke-width="3" stroke-linecap="round"/>
<line x1="137.5" y1="203.1" x2="145.6" y2="203.1" stroke-width="3" stroke-linecap="round"/>
<line x1="137.5" y1="188.59" x2="145.6" y2="188.59" stroke-width="3" stroke-linecap="round"/>
<line x1="137.5" y1="178.29" x2="145.6" y2="178.29" stroke-width="3" stroke-linecap="round"/>
<line x1="137.5" y1="170.3" x2="153.4" y2="170.3" stroke-width="3" stroke-linecap="round"/>
<line x1="137.5" y1="163.78" x2="145.6" y2="163.78" stroke-width="3" stroke-linecap="round"/>
<line x1="137.5" y1="158.26" x2="145.6" y2="158.26" stroke-width="3" stroke-linecap="round"/>
<line x1="137.5" y1="153.49" x2="145.6" y2="153.49" stroke-width="3" stroke-linecap="round"/>
<line x1="137.5" y1="149.27" x2="145.6" y2="149.27" stroke-width="3" stroke-linecap="round"/>
<line x1="137.5" y1="120.7" x2="145.6" y2="120.7" stroke-width="3" stroke-linecap="round"/>
<line x1="137.5" y1="106.19" x2="145.6" y2="106.19" stroke-width="3" stroke-linecap="round"/>
<line x1="137.5" y1="95.89" x2="145.6" y2="95.89" stroke-width="3" stroke-linecap="round"/>
<line x1="137.5" y1="87.9" x2="153.4" y2="87.9" stroke-width="3" stroke-linecap="round"/>
<line x1="137.5" y1="81.38" x2="145.6" y2="81.38" stroke-width="3" stroke-linecap="round"/>
<line x1="137.5" y1="75.86" x2="145.6" y2="75.86" stroke-width="3" stroke-linecap="round"/>
<line x1="137.5" y1="71.09" x2="145.6" y2="71.09" stroke-width="3" stroke-linecap="round"/>
<line x1="137.5" y1="66.87" x2="145.6" y2="66.87" stroke-width="3" stroke-linecap="round"/>
<line x1="130.1" y1="293" x2="137.5" y2="293" stroke-width="3" stroke-linecap="butt"/>
<line x1="137.6" y1="314" x2="147.4" y2="314" stroke-width="2.1" stroke-linecap="butt"/>
<line x1="138" y1="318.7" x2="147.4" y2="318.7" stroke-width="2.4" stroke-linecap="butt"/>
<line x1="138.5" y1="313.2" x2="138.5" y2="322.8" stroke-width="2" stroke-linecap="butt"/>
<line x1="143.4" y1="313.2" x2="143.4" y2="322.8" stroke-width="2.7" stroke-linecap="butt"/>
<line x1="147.2" y1="322.6" x2="373.3" y2="322.6" stroke-width="3" stroke-linecap="butt"/>
<line x1="148.6" y1="298.7" x2="148.6" y2="320" stroke-width="3" stroke-linecap="round"/>
<line x1="148.6" y1="310" x2="148.6" y2="330.3" stroke-width="3" stroke-linecap="butt"/>
<line x1="260.25" y1="298.7" x2="260.25" y2="320" stroke-width="3" stroke-linecap="round"/>
<line x1="260.25" y1="310" x2="260.25" y2="330.3" stroke-width="3" stroke-linecap="butt"/>
<line x1="371.9" y1="298.7" x2="371.9" y2="320" stroke-width="3" stroke-linecap="round"/>
<line x1="371.9" y1="310" x2="371.9" y2="330.3" stroke-width="3" stroke-linecap="butt"/>
<line x1="182.21" y1="322.6" x2="182.21" y2="315" stroke-width="3" stroke-linecap="round"/>
<line x1="201.87" y1="322.6" x2="201.87" y2="315" stroke-width="3" stroke-linecap="round"/>
<line x1="215.82" y1="322.6" x2="215.82" y2="315" stroke-width="3" stroke-linecap="round"/>
<line x1="226.64" y1="322.6" x2="226.64" y2="307.2" stroke-width="3" stroke-linecap="round"/>
<line x1="235.48" y1="322.6" x2="235.48" y2="315" stroke-width="3" stroke-linecap="round"/>
<line x1="242.96" y1="322.6" x2="242.96" y2="315" stroke-width="3" stroke-linecap="round"/>
<line x1="249.43" y1="322.6" x2="249.43" y2="315" stroke-width="3" stroke-linecap="round"/>
<line x1="255.14" y1="322.6" x2="255.14" y2="315" stroke-width="3" stroke-linecap="round"/>
<line x1="293.86" y1="322.6" x2="293.86" y2="315" stroke-width="3" stroke-linecap="round"/>
<line x1="313.52" y1="322.6" x2="313.52" y2="315" stroke-width="3" stroke-linecap="round"/>
<line x1="327.47" y1="322.6" x2="327.47" y2="315" stroke-width="3" stroke-linecap="round"/>
<line x1="338.29" y1="322.6" x2="338.29" y2="307.2" stroke-width="3" stroke-linecap="round"/>
<line x1="347.13" y1="322.6" x2="347.13" y2="315" stroke-width="3" stroke-linecap="round"/>
<line x1="354.61" y1="322.6" x2="354.61" y2="315" stroke-width="3" stroke-linecap="round"/>
<line x1="361.08" y1="322.6" x2="361.08" y2="315" stroke-width="3" stroke-linecap="round"/>
<line x1="366.79" y1="322.6" x2="366.79" y2="315" stroke-width="3" stroke-linecap="round"/>
<line x1="171.93" y1="322.6" x2="171.93" y2="330.3" stroke-width="3" stroke-linecap="butt"/>
</g>
<path d="M171.93 196.39 L173.35 194.6 L174.83 192.84 L176.39 191.11 L178.02 189.41 L179.72 187.74 L181.51 186.11 L183.36 184.52 L185.29 182.96 L187.3 181.45 L189.38 179.98 L191.52 178.56 L193.74 177.19 L196.03 175.87 L198.37 174.6 L200.78 173.39 L203.25 172.23 L205.77 171.13 L208.34 170.1 L210.96 169.13 L213.63 168.23 L216.33 167.4 L219.07 166.65 L221.85 165.96 L224.66 165.36 L227.49 164.83 L230.36 164.38 L233.24 164.02 L236.15 163.73 L239.08 163.54 L242.02 163.42 L244.98 163.4 L247.95 163.46 L250.94 163.61 L253.93 163.84 L256.94 164.17 L259.95 164.57 L262.97 165.07 L266 165.64 L269.04 166.31 L272.08 167.05 L275.12 167.88 L278.17 168.79 L281.22 169.79 L284.27 170.88 L287.33 172.05 L290.39 173.32 L293.46 174.69 L296.52 176.17 L299.59 177.77 L302.66 179.5 L305.72 181.37 L308.8 183.41 L311.87 185.62 L314.94 188.04 L318.01 190.67 L321.09 193.55 L324.16 196.71 L327.24 200.16 L330.31 203.94 L333.39 208.07 L336.47 212.58 L339.54 217.51 L342.62 222.87 L345.7 228.68 L348.77 234.97 L351.85 241.74 L354.93 248.96 L358.01 256.58 L361.09 264.48" fill="none" stroke="#000" stroke-width="3.1" stroke-linejoin="round"/>
<path d="M171.93 143.4 L173.35 141.87 L174.83 140.38 L176.39 138.94 L178.02 137.55 L179.72 136.21 L181.51 134.93 L183.36 133.7 L185.29 132.54 L187.3 131.44 L189.38 130.41 L191.52 129.45 L193.74 128.56 L196.03 127.75 L198.37 127.03 L200.78 126.38 L203.25 125.83 L205.77 125.36 L208.34 124.99 L210.96 124.71 L213.63 124.54 L216.33 124.47 L219.07 124.51 L221.85 124.66 L224.66 124.92 L227.49 125.29 L230.36 125.78 L233.24 126.38 L236.15 127.1 L239.08 127.94 L242.02 128.9 L244.98 129.97 L247.95 131.15 L250.94 132.45 L253.93 133.85 L256.94 135.36 L259.95 136.97 L262.97 138.67 L266 140.46 L269.04 142.33 L272.08 144.27 L275.12 146.28 L278.17 148.35 L281.22 150.47 L284.27 152.64 L287.33 154.86 L290.39 157.12 L293.46 159.43 L296.52 161.79 L299.59 164.22 L302.66 166.71 L305.72 169.29 L308.8 171.98 L311.87 174.8 L314.94 177.77 L318.01 180.93 L321.09 184.31 L324.16 187.94 L327.24 191.85 L330.31 196.09 L333.39 200.68 L336.47 205.67 L339.54 211.09 L342.62 216.96 L345.7 223.33 L348.77 230.2 L351.85 237.59 L354.93 245.49 L358.01 253.83 L361.09 262.49" fill="none" stroke="#000" stroke-width="3.1" stroke-linejoin="round" stroke-dasharray="5.5 6.6 18 6.6"/>
<rect x="160.68" y="185.25" width="22.5" height="22.5" fill="none" stroke="#000" stroke-width="3.9" stroke-linejoin="round"/>
<rect x="180.09" y="173.55" width="22.5" height="22.5" fill="none" stroke="#000" stroke-width="3.9" stroke-linejoin="round"/>
<rect x="217.22" y="148.35" width="22.5" height="22.5" fill="none" stroke="#000" stroke-width="3.9" stroke-linejoin="round"/>
<rect x="249.48" y="147.65" width="22.5" height="22.5" fill="none" stroke="#000" stroke-width="3.9" stroke-linejoin="round"/>
<rect x="282.73" y="166.25" width="22.5" height="22.5" fill="none" stroke="#000" stroke-width="3.9" stroke-linejoin="round"/>
<rect x="316.25" y="299.05" width="22.5" height="22.5" fill="none" stroke="#000" stroke-width="3.9" stroke-linejoin="round"/>
<circle cx="171.93" cy="135.7" r="12.7" fill="#000"/>
<circle cx="191.34" cy="142.6" r="12.7" fill="#000"/>
<circle cx="228.47" cy="122.7" r="12.7" fill="#000"/>
<circle cx="260.73" cy="138.5" r="12.7" fill="#000"/>
<circle cx="293.98" cy="150.6" r="12.7" fill="#000"/>
<circle cx="327.5" cy="310.3" r="12.7" fill="#000"/>
</g>
<g transform="translate(984 632.1)">
<g stroke="#000" fill="none">
<line x1="137.5" y1="62.5" x2="137.5" y2="311.7" stroke-width="3" stroke-linecap="butt"/>
<line x1="130.1" y1="310.3" x2="140" y2="310.3" stroke-width="3" stroke-linecap="butt"/>
<line x1="136" y1="310.3" x2="161.4" y2="310.3" stroke-width="3" stroke-linecap="round"/>
<line x1="130.1" y1="227.9" x2="140" y2="227.9" stroke-width="3" stroke-linecap="butt"/>
<line x1="136" y1="227.9" x2="161.4" y2="227.9" stroke-width="3" stroke-linecap="round"/>
<line x1="130.1" y1="145.5" x2="140" y2="145.5" stroke-width="3" stroke-linecap="butt"/>
<line x1="136" y1="145.5" x2="161.4" y2="145.5" stroke-width="3" stroke-linecap="round"/>
<line x1="130.1" y1="63.1" x2="140" y2="63.1" stroke-width="3" stroke-linecap="butt"/>
<line x1="136" y1="63.1" x2="161.4" y2="63.1" stroke-width="3" stroke-linecap="round"/>
<line x1="137.5" y1="285.5" x2="145.6" y2="285.5" stroke-width="3" stroke-linecap="round"/>
<line x1="137.5" y1="270.99" x2="145.6" y2="270.99" stroke-width="3" stroke-linecap="round"/>
<line x1="137.5" y1="260.69" x2="145.6" y2="260.69" stroke-width="3" stroke-linecap="round"/>
<line x1="137.5" y1="252.7" x2="153.4" y2="252.7" stroke-width="3" stroke-linecap="round"/>
<line x1="137.5" y1="246.18" x2="145.6" y2="246.18" stroke-width="3" stroke-linecap="round"/>
<line x1="137.5" y1="240.66" x2="145.6" y2="240.66" stroke-width="3" stroke-linecap="round"/>
<line x1="137.5" y1="235.89" x2="145.6" y2="235.89" stroke-width="3" stroke-linecap="round"/>
<line x1="137.5" y1="231.67" x2="145.6" y2="231.67" stroke-width="3" stroke-linecap="round"/>
<line x1="137.5" y1="203.1" x2="145.6" y2="203.1" stroke-width="3" stroke-linecap="round"/>
<line x1="137.5" y1="188.59" x2="145.6" y2="188.59" stroke-width="3" stroke-linecap="round"/>
<line x1="137.5" y1="178.29" x2="145.6" y2="178.29" stroke-width="3" stroke-linecap="round"/>
<line x1="137.5" y1="170.3" x2="153.4" y2="170.3" stroke-width="3" stroke-linecap="round"/>
<line x1="137.5" y1="163.78" x2="145.6" y2="163.78" stroke-width="3" stroke-linecap="round"/>
<line x1="137.5" y1="158.26" x2="145.6" y2="158.26" stroke-width="3" stroke-linecap="round"/>
<line x1="137.5" y1="153.49" x2="145.6" y2="153.49" stroke-width="3" stroke-linecap="round"/>
<line x1="137.5" y1="149.27" x2="145.6" y2="149.27" stroke-width="3" stroke-linecap="round"/>
<line x1="137.5" y1="120.7" x2="145.6" y2="120.7" stroke-width="3" stroke-linecap="round"/>
<line x1="137.5" y1="106.19" x2="145.6" y2="106.19" stroke-width="3" stroke-linecap="round"/>
<line x1="137.5" y1="95.89" x2="145.6" y2="95.89" stroke-width="3" stroke-linecap="round"/>
<line x1="137.5" y1="87.9" x2="153.4" y2="87.9" stroke-width="3" stroke-linecap="round"/>
<line x1="137.5" y1="81.38" x2="145.6" y2="81.38" stroke-width="3" stroke-linecap="round"/>
<line x1="137.5" y1="75.86" x2="145.6" y2="75.86" stroke-width="3" stroke-linecap="round"/>
<line x1="137.5" y1="71.09" x2="145.6" y2="71.09" stroke-width="3" stroke-linecap="round"/>
<line x1="137.5" y1="66.87" x2="145.6" y2="66.87" stroke-width="3" stroke-linecap="round"/>
<line x1="130.1" y1="293" x2="137.5" y2="293" stroke-width="3" stroke-linecap="butt"/>
<line x1="137.6" y1="314" x2="147.4" y2="314" stroke-width="2.1" stroke-linecap="butt"/>
<line x1="138" y1="318.7" x2="147.4" y2="318.7" stroke-width="2.4" stroke-linecap="butt"/>
<line x1="138.5" y1="313.2" x2="138.5" y2="322.8" stroke-width="2" stroke-linecap="butt"/>
<line x1="143.4" y1="313.2" x2="143.4" y2="322.8" stroke-width="2.7" stroke-linecap="butt"/>
<line x1="147.2" y1="322.6" x2="373.3" y2="322.6" stroke-width="3" stroke-linecap="butt"/>
<line x1="148.6" y1="298.7" x2="148.6" y2="320" stroke-width="3" stroke-linecap="round"/>
<line x1="148.6" y1="310" x2="148.6" y2="330.3" stroke-width="3" stroke-linecap="butt"/>
<line x1="260.25" y1="298.7" x2="260.25" y2="320" stroke-width="3" stroke-linecap="round"/>
<line x1="260.25" y1="310" x2="260.25" y2="330.3" stroke-width="3" stroke-linecap="butt"/>
<line x1="371.9" y1="298.7" x2="371.9" y2="320" stroke-width="3" stroke-linecap="round"/>
<line x1="371.9" y1="310" x2="371.9" y2="330.3" stroke-width="3" stroke-linecap="butt"/>
<line x1="182.21" y1="322.6" x2="182.21" y2="315" stroke-width="3" stroke-linecap="round"/>
<line x1="201.87" y1="322.6" x2="201.87" y2="315" stroke-width="3" stroke-linecap="round"/>
<line x1="215.82" y1="322.6" x2="215.82" y2="315" stroke-width="3" stroke-linecap="round"/>
<line x1="226.64" y1="322.6" x2="226.64" y2="307.2" stroke-width="3" stroke-linecap="round"/>
<line x1="235.48" y1="322.6" x2="235.48" y2="315" stroke-width="3" stroke-linecap="round"/>
<line x1="242.96" y1="322.6" x2="242.96" y2="315" stroke-width="3" stroke-linecap="round"/>
<line x1="249.43" y1="322.6" x2="249.43" y2="315" stroke-width="3" stroke-linecap="round"/>
<line x1="255.14" y1="322.6" x2="255.14" y2="315" stroke-width="3" stroke-linecap="round"/>
<line x1="293.86" y1="322.6" x2="293.86" y2="315" stroke-width="3" stroke-linecap="round"/>
<line x1="313.52" y1="322.6" x2="313.52" y2="315" stroke-width="3" stroke-linecap="round"/>
<line x1="327.47" y1="322.6" x2="327.47" y2="315" stroke-width="3" stroke-linecap="round"/>
<line x1="338.29" y1="322.6" x2="338.29" y2="307.2" stroke-width="3" stroke-linecap="round"/>
<line x1="347.13" y1="322.6" x2="347.13" y2="315" stroke-width="3" stroke-linecap="round"/>
<line x1="354.61" y1="322.6" x2="354.61" y2="315" stroke-width="3" stroke-linecap="round"/>
<line x1="361.08" y1="322.6" x2="361.08" y2="315" stroke-width="3" stroke-linecap="round"/>
<line x1="366.79" y1="322.6" x2="366.79" y2="315" stroke-width="3" stroke-linecap="round"/>
<line x1="171.93" y1="322.6" x2="171.93" y2="330.3" stroke-width="3" stroke-linecap="butt"/>
</g>
<path d="M171.93 208.37 L173.35 206.34 L174.83 204.32 L176.39 202.31 L178.02 200.32 L179.72 198.35 L181.51 196.39 L183.36 194.45 L185.29 192.53 L187.3 190.63 L189.38 188.76 L191.52 186.9 L193.74 185.07 L196.03 183.27 L198.37 181.5 L200.78 179.76 L203.25 178.05 L205.77 176.37 L208.34 174.72 L210.96 173.12 L213.63 171.55 L216.33 170.02 L219.07 168.53 L221.85 167.09 L224.66 165.7 L227.49 164.35 L230.36 163.06 L233.24 161.81 L236.15 160.63 L239.08 159.5 L242.02 158.43 L244.98 157.42 L247.95 156.48 L250.94 155.61 L253.93 154.8 L256.94 154.06 L259.95 153.4 L262.97 152.81 L266 152.29 L269.04 151.85 L272.08 151.49 L275.12 151.21 L278.17 151.01 L281.22 150.89 L284.27 150.86 L287.33 150.9 L290.39 151.03 L293.46 151.25 L296.52 151.55 L299.59 151.93 L302.66 152.41 L305.72 152.97 L308.8 153.62 L311.87 154.37 L314.94 155.21 L318.01 156.15 L321.09 157.21 L324.16 158.38 L327.24 159.67 L330.31 161.1 L333.39 162.68 L336.47 164.42 L339.54 166.35 L342.62 168.46 L345.7 170.8 L348.77 173.37 L351.85 176.2 L354.93 179.32 L358.01 182.74 L361.09 186.51" fill="none" stroke="#000" stroke-width="3.1" stroke-linejoin="round"/>
<path d="M171.93 167.38 L173.35 165.52 L174.83 163.69 L176.39 161.88 L178.02 160.1 L179.72 158.35 L181.51 156.63 L183.36 154.95 L185.29 153.31 L187.3 151.7 L189.38 150.13 L191.52 148.6 L193.74 147.12 L196.03 145.68 L198.37 144.3 L200.78 142.96 L203.25 141.68 L205.77 140.46 L208.34 139.3 L210.96 138.2 L213.63 137.16 L216.33 136.2 L219.07 135.3 L221.85 134.48 L224.66 133.73 L227.49 133.07 L230.36 132.49 L233.24 131.99 L236.15 131.58 L239.08 131.26 L242.02 131.03 L244.98 130.9 L247.95 130.86 L250.94 130.93 L253.93 131.09 L256.94 131.35 L259.95 131.71 L262.97 132.17 L266 132.73 L269.04 133.39 L272.08 134.15 L275.12 135 L278.17 135.95 L281.22 136.98 L284.27 138.11 L287.33 139.31 L290.39 140.6 L293.46 141.96 L296.52 143.39 L299.59 144.9 L302.66 146.48 L305.72 148.12 L308.8 149.84 L311.87 151.63 L314.94 153.5 L318.01 155.46 L321.09 157.52 L324.16 159.69 L327.24 161.99 L330.31 164.45 L333.39 167.07 L336.47 169.89 L339.54 172.94 L342.62 176.24 L345.7 179.83 L348.77 183.73 L351.85 187.98 L354.93 192.61 L358.01 197.65 L361.09 203.14" fill="none" stroke="#000" stroke-width="3.1" stroke-linejoin="round" stroke-dasharray="5.5 6.6 18 6.6"/>
<rect x="160.68" y="201.85" width="22.5" height="22.5" fill="none" stroke="#000" stroke-width="3.9" stroke-linejoin="round"/>
<rect x="180.09" y="179.55" width="22.5" height="22.5" fill="none" stroke="#000" stroke-width="3.9" stroke-linejoin="round"/>
<rect x="217.22" y="157.75" width="22.5" height="22.5" fill="none" stroke="#000" stroke-width="3.9" stroke-linejoin="round"/>
<rect x="249.48" y="117.65" width="22.5" height="22.5" fill="none" stroke="#000" stroke-width="3.9" stroke-linejoin="round"/>
<rect x="282.73" y="159.55" width="22.5" height="22.5" fill="none" stroke="#000" stroke-width="3.9" stroke-linejoin="round"/>
<rect x="316.25" y="141.45" width="22.5" height="22.5" fill="none" stroke="#000" stroke-width="3.9" stroke-linejoin="round"/>
<rect x="349.84" y="299.05" width="22.5" height="22.5" fill="none" stroke="#000" stroke-width="3.9" stroke-linejoin="round"/>
<circle cx="171.93" cy="178.9" r="12.7" fill="#000"/>
<circle cx="191.34" cy="158.6" r="12.7" fill="#000"/>
<circle cx="228.47" cy="119" r="12.7" fill="#000"/>
<circle cx="260.73" cy="116.5" r="12.7" fill="#000"/>
<circle cx="293.98" cy="134.8" r="12.7" fill="#000"/>
<circle cx="327.5" cy="310.3" r="12.7" fill="#000"/>
</g>
<rect x="226.05" y="64.75" width="22.5" height="22.5" fill="none" stroke="#000" stroke-width="3.9" stroke-linejoin="round"/>
<line x1="226" y1="76" x2="248.5" y2="76" stroke="#000" stroke-width="2.7"/>
<circle cx="237.3" cy="108.7" r="12.8" fill="#000"/>
<text x="259.9" y="34" font-size="41" text-anchor="middle" textLength="91" lengthAdjust="spacingAndGlyphs">Rat 1</text>
<text x="587.9" y="34" font-size="41" text-anchor="middle" textLength="91" lengthAdjust="spacingAndGlyphs">Rat 2</text>
<text x="915.9" y="34" font-size="41" text-anchor="middle" textLength="91" lengthAdjust="spacingAndGlyphs">Rat 3</text>
<text x="1243.9" y="34" font-size="41" text-anchor="middle" textLength="91" lengthAdjust="spacingAndGlyphs">Rat 4</text>
<text x="124.2" y="239.5" font-size="35" text-anchor="end">10</text>
<text x="124.2" y="157.1" font-size="35" text-anchor="end">100</text>
<text x="124.2" y="74.7" font-size="35" text-anchor="end">1000</text>
<text x="124.2" y="304.6" font-size="35" text-anchor="end">1</text>
<text x="124.2" y="322.4" font-size="35" text-anchor="end">0</text>
<text x="124.2" y="555.55" font-size="35" text-anchor="end">10</text>
<text x="124.2" y="473.15" font-size="35" text-anchor="end">100</text>
<text x="124.2" y="390.75" font-size="35" text-anchor="end">1000</text>
<text x="124.2" y="620.65" font-size="35" text-anchor="end">1</text>
<text x="124.2" y="638.45" font-size="35" text-anchor="end">0</text>
<text x="124.2" y="871.6" font-size="35" text-anchor="end">10</text>
<text x="124.2" y="789.2" font-size="35" text-anchor="end">100</text>
<text x="124.2" y="706.8" font-size="35" text-anchor="end">1000</text>
<text x="124.2" y="936.7" font-size="35" text-anchor="end">1</text>
<text x="124.2" y="954.5" font-size="35" text-anchor="end">0</text>
<text x="148.6" y="992.5" font-size="35" text-anchor="middle">0</text>
<text x="171.93" y="992.5" font-size="35" text-anchor="middle">1</text>
<text x="260.25" y="992.5" font-size="35" text-anchor="middle">10</text>
<text x="371.9" y="992.5" font-size="35" text-anchor="middle">100</text>
<text x="476.6" y="992.5" font-size="35" text-anchor="middle">0</text>
<text x="499.93" y="992.5" font-size="35" text-anchor="middle">1</text>
<text x="588.25" y="992.5" font-size="35" text-anchor="middle">10</text>
<text x="699.9" y="992.5" font-size="35" text-anchor="middle">100</text>
<text x="804.6" y="992.5" font-size="35" text-anchor="middle">0</text>
<text x="827.93" y="992.5" font-size="35" text-anchor="middle">1</text>
<text x="916.25" y="992.5" font-size="35" text-anchor="middle">10</text>
<text x="1027.9" y="992.5" font-size="35" text-anchor="middle">100</text>
<text x="1132.6" y="992.5" font-size="35" text-anchor="middle">0</text>
<text x="1155.93" y="992.5" font-size="35" text-anchor="middle">1</text>
<text x="1244.25" y="992.5" font-size="35" text-anchor="middle">10</text>
<text x="1355.9" y="992.5" font-size="35" text-anchor="middle">100</text>
<text transform="translate(1382.8 186.9) rotate(90)" font-size="42" text-anchor="middle" textLength="107.5" lengthAdjust="spacingAndGlyphs">10 Sec</text>
<text transform="translate(1382.8 502.95) rotate(90)" font-size="42" text-anchor="middle" textLength="107.5" lengthAdjust="spacingAndGlyphs">30 Sec</text>
<text transform="translate(1382.8 819) rotate(90)" font-size="42" text-anchor="middle" textLength="107.5" lengthAdjust="spacingAndGlyphs">60 Sec</text>
<text transform="translate(37.7 502.9) rotate(-90)" font-size="47" text-anchor="middle" textLength="284" lengthAdjust="spacingAndGlyphs">Response Rate</text>
<text x="752.2" y="1054.6" font-size="46" text-anchor="middle" textLength="333" lengthAdjust="spacingAndGlyphs">Social Price (FR)</text>
<text x="273.5" y="85.2" font-size="28.5" text-anchor="start">Cagemate</text>
<text x="273.5" y="118.7" font-size="28.5" text-anchor="start">Non-cagemate</text>
</svg>
</body></html>
